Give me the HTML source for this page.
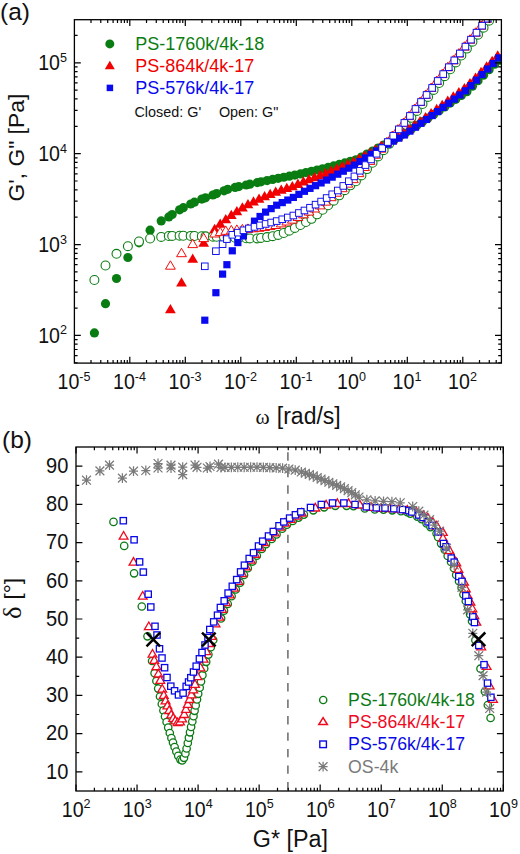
<!DOCTYPE html>
<html lang="en">
<head>
<meta charset="utf-8">
<title>Rheology master curves</title>
<style>
html,body{margin:0;padding:0;background:#fff;}
body{width:520px;height:854px;overflow:hidden;font-family:"Liberation Sans",sans-serif;}
svg{display:block;}
svg text{font-family:"Liberation Sans",sans-serif;}
</style>
</head>
<body>
<svg width="520" height="854" viewBox="0 0 520 854" font-family="Liberation Sans, sans-serif">
<clipPath id="ca"><rect x="74.4" y="19.7" width="427" height="343.4"/></clipPath>
<g clip-path="url(#ca)">
<circle cx="94.4" cy="332.9" r="4.6" fill="#0a7d12"/>
<circle cx="105.5" cy="303.7" r="4.6" fill="#0a7d12"/>
<circle cx="116.5" cy="278.5" r="4.6" fill="#0a7d12"/>
<circle cx="127.9" cy="257.5" r="4.6" fill="#0a7d12"/>
<circle cx="139" cy="242.8" r="4.6" fill="#0a7d12"/>
<circle cx="150.1" cy="230.2" r="4.6" fill="#0a7d12"/>
<circle cx="161.2" cy="220.9" r="4.6" fill="#0a7d12"/>
<circle cx="168.8" cy="216.9" r="4.6" fill="#0a7d12"/>
<circle cx="172.2" cy="214.5" r="4.6" fill="#0a7d12"/>
<circle cx="179.6" cy="209.8" r="4.6" fill="#0a7d12"/>
<circle cx="183.3" cy="207.7" r="4.6" fill="#0a7d12"/>
<circle cx="190.7" cy="204" r="4.6" fill="#0a7d12"/>
<circle cx="194.4" cy="202.2" r="4.6" fill="#0a7d12"/>
<circle cx="201.8" cy="199.1" r="4.6" fill="#0a7d12"/>
<circle cx="205.5" cy="197.8" r="4.6" fill="#0a7d12"/>
<circle cx="212.9" cy="194.99" r="4.6" fill="#0a7d12"/>
<circle cx="216.6" cy="193.59" r="4.6" fill="#0a7d12"/>
<circle cx="224" cy="190.78" r="4.6" fill="#0a7d12"/>
<circle cx="227.7" cy="189.37" r="4.6" fill="#0a7d12"/>
<circle cx="235.1" cy="187.4" r="4.6" fill="#0a7d12"/>
<circle cx="238.8" cy="186.59" r="4.6" fill="#0a7d12"/>
<circle cx="246.2" cy="184.99" r="4.6" fill="#0a7d12"/>
<circle cx="249.9" cy="184.19" r="4.6" fill="#0a7d12"/>
<circle cx="257.3" cy="182.59" r="4.6" fill="#0a7d12"/>
<circle cx="261" cy="181.8" r="4.6" fill="#0a7d12"/>
<circle cx="267.1" cy="180.58" r="4.6" fill="#0a7d12"/>
<circle cx="272.65" cy="179.47" r="4.6" fill="#0a7d12"/>
<circle cx="278.2" cy="178.36" r="4.6" fill="#0a7d12"/>
<circle cx="283.75" cy="177.25" r="4.6" fill="#0a7d12"/>
<circle cx="289.3" cy="176.14" r="4.6" fill="#0a7d12"/>
<circle cx="294.85" cy="175.03" r="4.6" fill="#0a7d12"/>
<circle cx="300.4" cy="173.91" r="4.6" fill="#0a7d12"/>
<circle cx="305.95" cy="172.61" r="4.6" fill="#0a7d12"/>
<circle cx="311.5" cy="171.32" r="4.6" fill="#0a7d12"/>
<circle cx="317.05" cy="170.02" r="4.6" fill="#0a7d12"/>
<circle cx="322.6" cy="168.73" r="4.6" fill="#0a7d12"/>
<circle cx="328.15" cy="167.43" r="4.6" fill="#0a7d12"/>
<circle cx="333.7" cy="165.97" r="4.6" fill="#0a7d12"/>
<circle cx="339.25" cy="164.43" r="4.6" fill="#0a7d12"/>
<circle cx="344.8" cy="162.89" r="4.6" fill="#0a7d12"/>
<circle cx="350.35" cy="161.35" r="4.6" fill="#0a7d12"/>
<circle cx="355.9" cy="159.81" r="4.6" fill="#0a7d12"/>
<circle cx="361.45" cy="157.08" r="4.6" fill="#0a7d12"/>
<circle cx="367" cy="154.06" r="4.6" fill="#0a7d12"/>
<circle cx="372.55" cy="151.04" r="4.6" fill="#0a7d12"/>
<circle cx="378.1" cy="148.03" r="4.6" fill="#0a7d12"/>
<circle cx="383.65" cy="145.01" r="4.6" fill="#0a7d12"/>
<circle cx="389.2" cy="141.96" r="4.6" fill="#0a7d12"/>
<circle cx="394.75" cy="138.91" r="4.6" fill="#0a7d12"/>
<circle cx="400.3" cy="135.86" r="4.6" fill="#0a7d12"/>
<circle cx="405.85" cy="132.57" r="4.6" fill="#0a7d12"/>
<circle cx="411.4" cy="128.94" r="4.6" fill="#0a7d12"/>
<circle cx="416.95" cy="125.32" r="4.6" fill="#0a7d12"/>
<circle cx="422.5" cy="121.69" r="4.6" fill="#0a7d12"/>
<circle cx="428.05" cy="118.07" r="4.6" fill="#0a7d12"/>
<circle cx="433.6" cy="114.44" r="4.6" fill="#0a7d12"/>
<circle cx="439.15" cy="110.69" r="4.6" fill="#0a7d12"/>
<circle cx="444.7" cy="106.89" r="4.6" fill="#0a7d12"/>
<circle cx="450.25" cy="103.08" r="4.6" fill="#0a7d12"/>
<circle cx="455.8" cy="99.28" r="4.6" fill="#0a7d12"/>
<circle cx="461.35" cy="95.47" r="4.6" fill="#0a7d12"/>
<circle cx="466.9" cy="91.67" r="4.6" fill="#0a7d12"/>
<circle cx="472.45" cy="86.2" r="4.6" fill="#0a7d12"/>
<circle cx="478" cy="80.7" r="4.6" fill="#0a7d12"/>
<circle cx="483.55" cy="75.21" r="4.6" fill="#0a7d12"/>
<circle cx="489.1" cy="69.71" r="4.6" fill="#0a7d12"/>
<circle cx="494.65" cy="64.21" r="4.6" fill="#0a7d12"/>
<circle cx="500.2" cy="60.2" r="4.6" fill="#0a7d12"/>
<circle cx="94.4" cy="280" r="4.45" fill="#fff" stroke="#0a7d12" stroke-width="1.1"/>
<circle cx="105.5" cy="265.5" r="4.45" fill="#fff" stroke="#0a7d12" stroke-width="1.1"/>
<circle cx="116.5" cy="253.8" r="4.45" fill="#fff" stroke="#0a7d12" stroke-width="1.1"/>
<circle cx="127.9" cy="246.2" r="4.45" fill="#fff" stroke="#0a7d12" stroke-width="1.1"/>
<circle cx="139" cy="241.5" r="4.45" fill="#fff" stroke="#0a7d12" stroke-width="1.1"/>
<circle cx="150.1" cy="238.5" r="4.45" fill="#fff" stroke="#0a7d12" stroke-width="1.1"/>
<circle cx="161.2" cy="236.9" r="4.45" fill="#fff" stroke="#0a7d12" stroke-width="1.1"/>
<circle cx="168.8" cy="236" r="4.45" fill="#fff" stroke="#0a7d12" stroke-width="1.1"/>
<circle cx="172.2" cy="235.91" r="4.45" fill="#fff" stroke="#0a7d12" stroke-width="1.1"/>
<circle cx="179.6" cy="235.71" r="4.45" fill="#fff" stroke="#0a7d12" stroke-width="1.1"/>
<circle cx="183.3" cy="235.77" r="4.45" fill="#fff" stroke="#0a7d12" stroke-width="1.1"/>
<circle cx="190.7" cy="235.91" r="4.45" fill="#fff" stroke="#0a7d12" stroke-width="1.1"/>
<circle cx="194.4" cy="235.99" r="4.45" fill="#fff" stroke="#0a7d12" stroke-width="1.1"/>
<circle cx="201.8" cy="236.23" r="4.45" fill="#fff" stroke="#0a7d12" stroke-width="1.1"/>
<circle cx="205.5" cy="236.35" r="4.45" fill="#fff" stroke="#0a7d12" stroke-width="1.1"/>
<circle cx="212.9" cy="236.65" r="4.45" fill="#fff" stroke="#0a7d12" stroke-width="1.1"/>
<circle cx="216.6" cy="236.83" r="4.45" fill="#fff" stroke="#0a7d12" stroke-width="1.1"/>
<circle cx="224" cy="237.2" r="4.45" fill="#fff" stroke="#0a7d12" stroke-width="1.1"/>
<circle cx="227.7" cy="237.38" r="4.45" fill="#fff" stroke="#0a7d12" stroke-width="1.1"/>
<circle cx="235.1" cy="237.75" r="4.45" fill="#fff" stroke="#0a7d12" stroke-width="1.1"/>
<circle cx="238.8" cy="237.92" r="4.45" fill="#fff" stroke="#0a7d12" stroke-width="1.1"/>
<circle cx="246.2" cy="238.28" r="4.45" fill="#fff" stroke="#0a7d12" stroke-width="1.1"/>
<circle cx="249.9" cy="238.46" r="4.45" fill="#fff" stroke="#0a7d12" stroke-width="1.1"/>
<circle cx="257.3" cy="238.46" r="4.45" fill="#fff" stroke="#0a7d12" stroke-width="1.1"/>
<circle cx="261" cy="237.97" r="4.45" fill="#fff" stroke="#0a7d12" stroke-width="1.1"/>
<circle cx="267.1" cy="237.11" r="4.45" fill="#fff" stroke="#0a7d12" stroke-width="1.1"/>
<circle cx="272.65" cy="236.22" r="4.45" fill="#fff" stroke="#0a7d12" stroke-width="1.1"/>
<circle cx="278.2" cy="234.92" r="4.45" fill="#fff" stroke="#0a7d12" stroke-width="1.1"/>
<circle cx="283.75" cy="232.99" r="4.45" fill="#fff" stroke="#0a7d12" stroke-width="1.1"/>
<circle cx="289.3" cy="230.63" r="4.45" fill="#fff" stroke="#0a7d12" stroke-width="1.1"/>
<circle cx="294.85" cy="227.96" r="4.45" fill="#fff" stroke="#0a7d12" stroke-width="1.1"/>
<circle cx="300.4" cy="225.07" r="4.45" fill="#fff" stroke="#0a7d12" stroke-width="1.1"/>
<circle cx="305.95" cy="222.07" r="4.45" fill="#fff" stroke="#0a7d12" stroke-width="1.1"/>
<circle cx="311.5" cy="218.84" r="4.45" fill="#fff" stroke="#0a7d12" stroke-width="1.1"/>
<circle cx="317.05" cy="214.37" r="4.45" fill="#fff" stroke="#0a7d12" stroke-width="1.1"/>
<circle cx="322.6" cy="209.81" r="4.45" fill="#fff" stroke="#0a7d12" stroke-width="1.1"/>
<circle cx="328.15" cy="205.24" r="4.45" fill="#fff" stroke="#0a7d12" stroke-width="1.1"/>
<circle cx="333.7" cy="200.68" r="4.45" fill="#fff" stroke="#0a7d12" stroke-width="1.1"/>
<circle cx="339.25" cy="195.36" r="4.45" fill="#fff" stroke="#0a7d12" stroke-width="1.1"/>
<circle cx="344.8" cy="190.2" r="4.45" fill="#fff" stroke="#0a7d12" stroke-width="1.1"/>
<circle cx="350.35" cy="185.36" r="4.45" fill="#fff" stroke="#0a7d12" stroke-width="1.1"/>
<circle cx="355.9" cy="181.3" r="4.45" fill="#fff" stroke="#0a7d12" stroke-width="1.1"/>
<circle cx="361.45" cy="175.43" r="4.45" fill="#fff" stroke="#0a7d12" stroke-width="1.1"/>
<circle cx="367" cy="169.11" r="4.45" fill="#fff" stroke="#0a7d12" stroke-width="1.1"/>
<circle cx="372.55" cy="162.79" r="4.45" fill="#fff" stroke="#0a7d12" stroke-width="1.1"/>
<circle cx="378.1" cy="156.47" r="4.45" fill="#fff" stroke="#0a7d12" stroke-width="1.1"/>
<circle cx="383.65" cy="150.15" r="4.45" fill="#fff" stroke="#0a7d12" stroke-width="1.1"/>
<circle cx="389.2" cy="143.87" r="4.45" fill="#fff" stroke="#0a7d12" stroke-width="1.1"/>
<circle cx="394.75" cy="137.6" r="4.45" fill="#fff" stroke="#0a7d12" stroke-width="1.1"/>
<circle cx="400.3" cy="131.32" r="4.45" fill="#fff" stroke="#0a7d12" stroke-width="1.1"/>
<circle cx="405.85" cy="124.77" r="4.45" fill="#fff" stroke="#0a7d12" stroke-width="1.1"/>
<circle cx="411.4" cy="117.86" r="4.45" fill="#fff" stroke="#0a7d12" stroke-width="1.1"/>
<circle cx="416.95" cy="110.95" r="4.45" fill="#fff" stroke="#0a7d12" stroke-width="1.1"/>
<circle cx="422.5" cy="103.98" r="4.45" fill="#fff" stroke="#0a7d12" stroke-width="1.1"/>
<circle cx="428.05" cy="96.95" r="4.45" fill="#fff" stroke="#0a7d12" stroke-width="1.1"/>
<circle cx="433.6" cy="89.93" r="4.45" fill="#fff" stroke="#0a7d12" stroke-width="1.1"/>
<circle cx="439.15" cy="83.01" r="4.45" fill="#fff" stroke="#0a7d12" stroke-width="1.1"/>
<circle cx="444.7" cy="76.13" r="4.45" fill="#fff" stroke="#0a7d12" stroke-width="1.1"/>
<circle cx="450.25" cy="69.25" r="4.45" fill="#fff" stroke="#0a7d12" stroke-width="1.1"/>
<circle cx="455.8" cy="62.38" r="4.45" fill="#fff" stroke="#0a7d12" stroke-width="1.1"/>
<circle cx="461.35" cy="55.5" r="4.45" fill="#fff" stroke="#0a7d12" stroke-width="1.1"/>
<circle cx="466.9" cy="48.62" r="4.45" fill="#fff" stroke="#0a7d12" stroke-width="1.1"/>
<circle cx="472.45" cy="41.64" r="4.45" fill="#fff" stroke="#0a7d12" stroke-width="1.1"/>
<circle cx="478" cy="34.66" r="4.45" fill="#fff" stroke="#0a7d12" stroke-width="1.1"/>
<circle cx="483.55" cy="27.68" r="4.45" fill="#fff" stroke="#0a7d12" stroke-width="1.1"/>
<circle cx="489.1" cy="20.7" r="4.45" fill="#fff" stroke="#0a7d12" stroke-width="1.1"/>
<circle cx="494.65" cy="13.72" r="4.45" fill="#fff" stroke="#0a7d12" stroke-width="1.1"/>
<circle cx="500.2" cy="6.74" r="4.45" fill="#fff" stroke="#0a7d12" stroke-width="1.1"/>
<polygon points="170.4,304.05 165,313.35 175.8,313.35" fill="#f00000"/>
<polygon points="181.5,277.15 176.1,286.45 186.9,286.45" fill="#f00000"/>
<polygon points="192.7,253.55 187.3,262.85 198.1,262.85" fill="#f00000"/>
<polygon points="203.7,237.45 198.3,246.75 209.1,246.75" fill="#f00000"/>
<polygon points="214.65,223.76 209.25,233.06 220.05,233.06" fill="#f00000"/>
<polygon points="220.2,218.57 214.8,227.87 225.6,227.87" fill="#f00000"/>
<polygon points="225.75,213.88 220.35,223.18 231.15,223.18" fill="#f00000"/>
<polygon points="231.3,209.7 225.9,219 236.7,219" fill="#f00000"/>
<polygon points="236.85,205.96 231.45,215.26 242.25,215.26" fill="#f00000"/>
<polygon points="242.4,202.31 237,211.61 247.8,211.61" fill="#f00000"/>
<polygon points="247.95,198.99 242.55,208.29 253.35,208.29" fill="#f00000"/>
<polygon points="253.5,196.27 248.1,205.57 258.9,205.57" fill="#f00000"/>
<polygon points="259.05,193.55 253.65,202.85 264.45,202.85" fill="#f00000"/>
<polygon points="264.6,191.07 259.2,200.37 270,200.37" fill="#f00000"/>
<polygon points="270.15,188.78 264.75,198.08 275.55,198.08" fill="#f00000"/>
<polygon points="275.7,186.49 270.3,195.79 281.1,195.79" fill="#f00000"/>
<polygon points="281.25,184.56 275.85,193.86 286.65,193.86" fill="#f00000"/>
<polygon points="286.8,182.75 281.4,192.05 292.2,192.05" fill="#f00000"/>
<polygon points="292.35,180.93 286.95,190.23 297.75,190.23" fill="#f00000"/>
<polygon points="297.9,178.59 292.5,187.89 303.3,187.89" fill="#f00000"/>
<polygon points="303.45,176.24 298.05,185.54 308.85,185.54" fill="#f00000"/>
<polygon points="309,173.97 303.6,183.27 314.4,183.27" fill="#f00000"/>
<polygon points="314.55,171.9 309.15,181.2 319.95,181.2" fill="#f00000"/>
<polygon points="320.1,169.83 314.7,179.13 325.5,179.13" fill="#f00000"/>
<polygon points="325.65,167.71 320.25,177.01 331.05,177.01" fill="#f00000"/>
<polygon points="331.2,165.52 325.8,174.82 336.6,174.82" fill="#f00000"/>
<polygon points="336.75,163.34 331.35,172.64 342.15,172.64" fill="#f00000"/>
<polygon points="342.3,161.11 336.9,170.41 347.7,170.41" fill="#f00000"/>
<polygon points="347.85,158.86 342.45,168.16 353.25,168.16" fill="#f00000"/>
<polygon points="353.4,156.61 348,165.91 358.8,165.91" fill="#f00000"/>
<polygon points="358.95,153.59 353.55,162.89 364.35,162.89" fill="#f00000"/>
<polygon points="364.5,150.51 359.1,159.81 369.9,159.81" fill="#f00000"/>
<polygon points="370.05,147.42 364.65,156.72 375.45,156.72" fill="#f00000"/>
<polygon points="375.6,144.14 370.2,153.44 381,153.44" fill="#f00000"/>
<polygon points="381.15,140.87 375.75,150.17 386.55,150.17" fill="#f00000"/>
<polygon points="386.7,137.6 381.3,146.9 392.1,146.9" fill="#f00000"/>
<polygon points="392.25,134.35 386.85,143.65 397.65,143.65" fill="#f00000"/>
<polygon points="397.8,131.09 392.4,140.39 403.2,140.39" fill="#f00000"/>
<polygon points="403.35,127.84 397.95,137.14 408.75,137.14" fill="#f00000"/>
<polygon points="408.9,123.87 403.5,133.17 414.3,133.17" fill="#f00000"/>
<polygon points="414.45,119.87 409.05,129.17 419.85,129.17" fill="#f00000"/>
<polygon points="420,115.88 414.6,125.18 425.4,125.18" fill="#f00000"/>
<polygon points="425.55,111.89 420.15,121.19 430.95,121.19" fill="#f00000"/>
<polygon points="431.1,107.9 425.7,117.2 436.5,117.2" fill="#f00000"/>
<polygon points="436.65,103.86 431.25,113.16 442.05,113.16" fill="#f00000"/>
<polygon points="442.2,99.67 436.8,108.97 447.6,108.97" fill="#f00000"/>
<polygon points="447.75,95.48 442.35,104.78 453.15,104.78" fill="#f00000"/>
<polygon points="453.3,91.29 447.9,100.59 458.7,100.59" fill="#f00000"/>
<polygon points="458.85,87.1 453.45,96.4 464.25,96.4" fill="#f00000"/>
<polygon points="464.4,82.91 459,92.21 469.8,92.21" fill="#f00000"/>
<polygon points="469.95,77.99 464.55,87.29 475.35,87.29" fill="#f00000"/>
<polygon points="475.5,72.42 470.1,81.72 480.9,81.72" fill="#f00000"/>
<polygon points="481.05,66.86 475.65,76.16 486.45,76.16" fill="#f00000"/>
<polygon points="486.6,61.29 481.2,70.59 492,70.59" fill="#f00000"/>
<polygon points="492.15,55.72 486.75,65.02 497.55,65.02" fill="#f00000"/>
<polygon points="497.7,50.15 492.3,59.45 503.1,59.45" fill="#f00000"/>
<polygon points="170.4,260.8 165.5,269.2 175.3,269.2" fill="#fff" stroke="#f00000" stroke-width="0.95" stroke-linejoin="miter"/>
<polygon points="181.5,248.3 176.6,256.7 186.4,256.7" fill="#fff" stroke="#f00000" stroke-width="0.95" stroke-linejoin="miter"/>
<polygon points="192.7,239.2 187.8,247.6 197.6,247.6" fill="#fff" stroke="#f00000" stroke-width="0.95" stroke-linejoin="miter"/>
<polygon points="203.7,233.2 198.8,241.6 208.6,241.6" fill="#fff" stroke="#f00000" stroke-width="0.95" stroke-linejoin="miter"/>
<polygon points="214.65,228.59 209.75,236.99 219.55,236.99" fill="#fff" stroke="#f00000" stroke-width="0.95" stroke-linejoin="miter"/>
<polygon points="220.2,227.2 215.3,235.6 225.1,235.6" fill="#fff" stroke="#f00000" stroke-width="0.95" stroke-linejoin="miter"/>
<polygon points="225.75,225.93 220.85,234.33 230.65,234.33" fill="#fff" stroke="#f00000" stroke-width="0.95" stroke-linejoin="miter"/>
<polygon points="231.3,225.41 226.4,233.81 236.2,233.81" fill="#fff" stroke="#f00000" stroke-width="0.95" stroke-linejoin="miter"/>
<polygon points="236.85,224.89 231.95,233.29 241.75,233.29" fill="#fff" stroke="#f00000" stroke-width="0.95" stroke-linejoin="miter"/>
<polygon points="242.4,224.39 237.5,232.79 247.3,232.79" fill="#fff" stroke="#f00000" stroke-width="0.95" stroke-linejoin="miter"/>
<polygon points="247.95,223.9 243.05,232.3 252.85,232.3" fill="#fff" stroke="#f00000" stroke-width="0.95" stroke-linejoin="miter"/>
<polygon points="253.5,223.41 248.6,231.81 258.4,231.81" fill="#fff" stroke="#f00000" stroke-width="0.95" stroke-linejoin="miter"/>
<polygon points="259.05,222.92 254.15,231.32 263.95,231.32" fill="#fff" stroke="#f00000" stroke-width="0.95" stroke-linejoin="miter"/>
<polygon points="264.6,222.14 259.7,230.54 269.5,230.54" fill="#fff" stroke="#f00000" stroke-width="0.95" stroke-linejoin="miter"/>
<polygon points="270.15,221.14 265.25,229.54 275.05,229.54" fill="#fff" stroke="#f00000" stroke-width="0.95" stroke-linejoin="miter"/>
<polygon points="275.7,220.13 270.8,228.53 280.6,228.53" fill="#fff" stroke="#f00000" stroke-width="0.95" stroke-linejoin="miter"/>
<polygon points="281.25,218.48 276.35,226.88 286.15,226.88" fill="#fff" stroke="#f00000" stroke-width="0.95" stroke-linejoin="miter"/>
<polygon points="286.8,216.63 281.9,225.03 291.7,225.03" fill="#fff" stroke="#f00000" stroke-width="0.95" stroke-linejoin="miter"/>
<polygon points="292.35,214.73 287.45,223.13 297.25,223.13" fill="#fff" stroke="#f00000" stroke-width="0.95" stroke-linejoin="miter"/>
<polygon points="297.9,212.08 293,220.48 302.8,220.48" fill="#fff" stroke="#f00000" stroke-width="0.95" stroke-linejoin="miter"/>
<polygon points="303.45,209.43 298.55,217.83 308.35,217.83" fill="#fff" stroke="#f00000" stroke-width="0.95" stroke-linejoin="miter"/>
<polygon points="309,206.68 304.1,215.08 313.9,215.08" fill="#fff" stroke="#f00000" stroke-width="0.95" stroke-linejoin="miter"/>
<polygon points="314.55,203.59 309.65,211.99 319.45,211.99" fill="#fff" stroke="#f00000" stroke-width="0.95" stroke-linejoin="miter"/>
<polygon points="320.1,200.51 315.2,208.91 325,208.91" fill="#fff" stroke="#f00000" stroke-width="0.95" stroke-linejoin="miter"/>
<polygon points="325.65,196.76 320.75,205.16 330.55,205.16" fill="#fff" stroke="#f00000" stroke-width="0.95" stroke-linejoin="miter"/>
<polygon points="331.2,192.29 326.3,200.69 336.1,200.69" fill="#fff" stroke="#f00000" stroke-width="0.95" stroke-linejoin="miter"/>
<polygon points="336.75,187.81 331.85,196.21 341.65,196.21" fill="#fff" stroke="#f00000" stroke-width="0.95" stroke-linejoin="miter"/>
<polygon points="342.3,183.3 337.4,191.7 347.2,191.7" fill="#fff" stroke="#f00000" stroke-width="0.95" stroke-linejoin="miter"/>
<polygon points="347.85,178.76 342.95,187.16 352.75,187.16" fill="#fff" stroke="#f00000" stroke-width="0.95" stroke-linejoin="miter"/>
<polygon points="353.4,174.23 348.5,182.63 358.3,182.63" fill="#fff" stroke="#f00000" stroke-width="0.95" stroke-linejoin="miter"/>
<polygon points="358.95,168.23 354.05,176.63 363.85,176.63" fill="#fff" stroke="#f00000" stroke-width="0.95" stroke-linejoin="miter"/>
<polygon points="364.5,162.12 359.6,170.52 369.4,170.52" fill="#fff" stroke="#f00000" stroke-width="0.95" stroke-linejoin="miter"/>
<polygon points="370.05,156 365.15,164.4 374.95,164.4" fill="#fff" stroke="#f00000" stroke-width="0.95" stroke-linejoin="miter"/>
<polygon points="375.6,149.89 370.7,158.29 380.5,158.29" fill="#fff" stroke="#f00000" stroke-width="0.95" stroke-linejoin="miter"/>
<polygon points="381.15,143.78 376.25,152.18 386.05,152.18" fill="#fff" stroke="#f00000" stroke-width="0.95" stroke-linejoin="miter"/>
<polygon points="386.7,137.54 381.8,145.94 391.6,145.94" fill="#fff" stroke="#f00000" stroke-width="0.95" stroke-linejoin="miter"/>
<polygon points="392.25,131.12 387.35,139.52 397.15,139.52" fill="#fff" stroke="#f00000" stroke-width="0.95" stroke-linejoin="miter"/>
<polygon points="397.8,124.7 392.9,133.1 402.7,133.1" fill="#fff" stroke="#f00000" stroke-width="0.95" stroke-linejoin="miter"/>
<polygon points="403.35,118.27 398.45,126.67 408.25,126.67" fill="#fff" stroke="#f00000" stroke-width="0.95" stroke-linejoin="miter"/>
<polygon points="408.9,111.24 404,119.64 413.8,119.64" fill="#fff" stroke="#f00000" stroke-width="0.95" stroke-linejoin="miter"/>
<polygon points="414.45,104.19 409.55,112.59 419.35,112.59" fill="#fff" stroke="#f00000" stroke-width="0.95" stroke-linejoin="miter"/>
<polygon points="420,97.14 415.1,105.54 424.9,105.54" fill="#fff" stroke="#f00000" stroke-width="0.95" stroke-linejoin="miter"/>
<polygon points="425.55,90.12 420.65,98.52 430.45,98.52" fill="#fff" stroke="#f00000" stroke-width="0.95" stroke-linejoin="miter"/>
<polygon points="431.1,83.09 426.2,91.49 436,91.49" fill="#fff" stroke="#f00000" stroke-width="0.95" stroke-linejoin="miter"/>
<polygon points="436.65,76.1 431.75,84.5 441.55,84.5" fill="#fff" stroke="#f00000" stroke-width="0.95" stroke-linejoin="miter"/>
<polygon points="442.2,69.23 437.3,77.63 447.1,77.63" fill="#fff" stroke="#f00000" stroke-width="0.95" stroke-linejoin="miter"/>
<polygon points="447.75,62.35 442.85,70.75 452.65,70.75" fill="#fff" stroke="#f00000" stroke-width="0.95" stroke-linejoin="miter"/>
<polygon points="453.3,55.47 448.4,63.87 458.2,63.87" fill="#fff" stroke="#f00000" stroke-width="0.95" stroke-linejoin="miter"/>
<polygon points="458.85,48.6 453.95,57 463.75,57" fill="#fff" stroke="#f00000" stroke-width="0.95" stroke-linejoin="miter"/>
<polygon points="464.4,41.72 459.5,50.12 469.3,50.12" fill="#fff" stroke="#f00000" stroke-width="0.95" stroke-linejoin="miter"/>
<polygon points="469.95,34.79 465.05,43.19 474.85,43.19" fill="#fff" stroke="#f00000" stroke-width="0.95" stroke-linejoin="miter"/>
<polygon points="475.5,27.81 470.6,36.21 480.4,36.21" fill="#fff" stroke="#f00000" stroke-width="0.95" stroke-linejoin="miter"/>
<polygon points="481.05,20.83 476.15,29.23 485.95,29.23" fill="#fff" stroke="#f00000" stroke-width="0.95" stroke-linejoin="miter"/>
<polygon points="486.6,13.85 481.7,22.25 491.5,22.25" fill="#fff" stroke="#f00000" stroke-width="0.95" stroke-linejoin="miter"/>
<polygon points="492.15,6.86 487.25,15.26 497.05,15.26" fill="#fff" stroke="#f00000" stroke-width="0.95" stroke-linejoin="miter"/>
<polygon points="497.7,-0.12 492.8,8.28 502.6,8.28" fill="#fff" stroke="#f00000" stroke-width="0.95" stroke-linejoin="miter"/>
<rect x="201.2" y="316.6" width="7.2" height="7.2" fill="#0a0af0"/>
<rect x="212.3" y="289.1" width="7.2" height="7.2" fill="#0a0af0"/>
<rect x="219" y="270.5" width="7.2" height="7.2" fill="#0a0af0"/>
<rect x="223.3" y="261.1" width="7.2" height="7.2" fill="#0a0af0"/>
<rect x="228.7" y="247.2" width="7.2" height="7.2" fill="#0a0af0"/>
<rect x="234.25" y="238.98" width="7.2" height="7.2" fill="#0a0af0"/>
<rect x="239.8" y="232.34" width="7.2" height="7.2" fill="#0a0af0"/>
<rect x="245.35" y="224.94" width="7.2" height="7.2" fill="#0a0af0"/>
<rect x="250.9" y="217.57" width="7.2" height="7.2" fill="#0a0af0"/>
<rect x="256.45" y="212.86" width="7.2" height="7.2" fill="#0a0af0"/>
<rect x="262" y="208.51" width="7.2" height="7.2" fill="#0a0af0"/>
<rect x="267.55" y="205.02" width="7.2" height="7.2" fill="#0a0af0"/>
<rect x="273.1" y="201.59" width="7.2" height="7.2" fill="#0a0af0"/>
<rect x="278.65" y="199" width="7.2" height="7.2" fill="#0a0af0"/>
<rect x="284.2" y="196.46" width="7.2" height="7.2" fill="#0a0af0"/>
<rect x="289.75" y="193.82" width="7.2" height="7.2" fill="#0a0af0"/>
<rect x="295.3" y="190.76" width="7.2" height="7.2" fill="#0a0af0"/>
<rect x="300.85" y="187.69" width="7.2" height="7.2" fill="#0a0af0"/>
<rect x="306.4" y="184.77" width="7.2" height="7.2" fill="#0a0af0"/>
<rect x="311.95" y="182.05" width="7.2" height="7.2" fill="#0a0af0"/>
<rect x="317.5" y="179.33" width="7.2" height="7.2" fill="#0a0af0"/>
<rect x="323.05" y="176.47" width="7.2" height="7.2" fill="#0a0af0"/>
<rect x="328.6" y="173.53" width="7.2" height="7.2" fill="#0a0af0"/>
<rect x="334.15" y="170.6" width="7.2" height="7.2" fill="#0a0af0"/>
<rect x="339.7" y="167.6" width="7.2" height="7.2" fill="#0a0af0"/>
<rect x="345.25" y="164.59" width="7.2" height="7.2" fill="#0a0af0"/>
<rect x="350.8" y="161.51" width="7.2" height="7.2" fill="#0a0af0"/>
<rect x="356.35" y="157.91" width="7.2" height="7.2" fill="#0a0af0"/>
<rect x="361.9" y="154.32" width="7.2" height="7.2" fill="#0a0af0"/>
<rect x="367.45" y="150.74" width="7.2" height="7.2" fill="#0a0af0"/>
<rect x="373" y="147.27" width="7.2" height="7.2" fill="#0a0af0"/>
<rect x="378.55" y="143.81" width="7.2" height="7.2" fill="#0a0af0"/>
<rect x="384.1" y="140.6" width="7.2" height="7.2" fill="#0a0af0"/>
<rect x="389.65" y="137.58" width="7.2" height="7.2" fill="#0a0af0"/>
<rect x="395.2" y="134.56" width="7.2" height="7.2" fill="#0a0af0"/>
<rect x="400.75" y="131.4" width="7.2" height="7.2" fill="#0a0af0"/>
<rect x="406.3" y="127.52" width="7.2" height="7.2" fill="#0a0af0"/>
<rect x="411.85" y="123.63" width="7.2" height="7.2" fill="#0a0af0"/>
<rect x="417.4" y="119.74" width="7.2" height="7.2" fill="#0a0af0"/>
<rect x="422.95" y="115.86" width="7.2" height="7.2" fill="#0a0af0"/>
<rect x="428.5" y="111.97" width="7.2" height="7.2" fill="#0a0af0"/>
<rect x="434.05" y="107.97" width="7.2" height="7.2" fill="#0a0af0"/>
<rect x="439.6" y="103.81" width="7.2" height="7.2" fill="#0a0af0"/>
<rect x="445.15" y="99.66" width="7.2" height="7.2" fill="#0a0af0"/>
<rect x="450.7" y="95.51" width="7.2" height="7.2" fill="#0a0af0"/>
<rect x="456.25" y="91.35" width="7.2" height="7.2" fill="#0a0af0"/>
<rect x="461.8" y="87.2" width="7.2" height="7.2" fill="#0a0af0"/>
<rect x="467.35" y="82.05" width="7.2" height="7.2" fill="#0a0af0"/>
<rect x="472.9" y="76.5" width="7.2" height="7.2" fill="#0a0af0"/>
<rect x="478.45" y="70.95" width="7.2" height="7.2" fill="#0a0af0"/>
<rect x="484" y="65.4" width="7.2" height="7.2" fill="#0a0af0"/>
<rect x="489.55" y="59.85" width="7.2" height="7.2" fill="#0a0af0"/>
<rect x="495.1" y="54.3" width="7.2" height="7.2" fill="#0a0af0"/>
<rect x="201.5" y="263" width="6.6" height="6.6" fill="#fff" stroke="#0a0af0" stroke-width="0.95"/>
<rect x="212.6" y="247.9" width="6.6" height="6.6" fill="#fff" stroke="#0a0af0" stroke-width="0.95"/>
<rect x="219.3" y="240.9" width="6.6" height="6.6" fill="#fff" stroke="#0a0af0" stroke-width="0.95"/>
<rect x="223.6" y="235.8" width="6.6" height="6.6" fill="#fff" stroke="#0a0af0" stroke-width="0.95"/>
<rect x="229" y="231.5" width="6.6" height="6.6" fill="#fff" stroke="#0a0af0" stroke-width="0.95"/>
<rect x="234.55" y="229.34" width="6.6" height="6.6" fill="#fff" stroke="#0a0af0" stroke-width="0.95"/>
<rect x="240.1" y="227" width="6.6" height="6.6" fill="#fff" stroke="#0a0af0" stroke-width="0.95"/>
<rect x="245.65" y="225.1" width="6.6" height="6.6" fill="#fff" stroke="#0a0af0" stroke-width="0.95"/>
<rect x="251.2" y="223.6" width="6.6" height="6.6" fill="#fff" stroke="#0a0af0" stroke-width="0.95"/>
<rect x="256.75" y="222.09" width="6.6" height="6.6" fill="#fff" stroke="#0a0af0" stroke-width="0.95"/>
<rect x="262.3" y="220.64" width="6.6" height="6.6" fill="#fff" stroke="#0a0af0" stroke-width="0.95"/>
<rect x="267.85" y="219.21" width="6.6" height="6.6" fill="#fff" stroke="#0a0af0" stroke-width="0.95"/>
<rect x="273.4" y="217.78" width="6.6" height="6.6" fill="#fff" stroke="#0a0af0" stroke-width="0.95"/>
<rect x="278.95" y="215.98" width="6.6" height="6.6" fill="#fff" stroke="#0a0af0" stroke-width="0.95"/>
<rect x="284.5" y="214.17" width="6.6" height="6.6" fill="#fff" stroke="#0a0af0" stroke-width="0.95"/>
<rect x="290.05" y="212.22" width="6.6" height="6.6" fill="#fff" stroke="#0a0af0" stroke-width="0.95"/>
<rect x="295.6" y="209.7" width="6.6" height="6.6" fill="#fff" stroke="#0a0af0" stroke-width="0.95"/>
<rect x="301.15" y="207.18" width="6.6" height="6.6" fill="#fff" stroke="#0a0af0" stroke-width="0.95"/>
<rect x="306.7" y="204.42" width="6.6" height="6.6" fill="#fff" stroke="#0a0af0" stroke-width="0.95"/>
<rect x="312.25" y="201.34" width="6.6" height="6.6" fill="#fff" stroke="#0a0af0" stroke-width="0.95"/>
<rect x="317.8" y="198.26" width="6.6" height="6.6" fill="#fff" stroke="#0a0af0" stroke-width="0.95"/>
<rect x="323.35" y="194.73" width="6.6" height="6.6" fill="#fff" stroke="#0a0af0" stroke-width="0.95"/>
<rect x="328.9" y="190.97" width="6.6" height="6.6" fill="#fff" stroke="#0a0af0" stroke-width="0.95"/>
<rect x="334.45" y="187.21" width="6.6" height="6.6" fill="#fff" stroke="#0a0af0" stroke-width="0.95"/>
<rect x="340" y="182.62" width="6.6" height="6.6" fill="#fff" stroke="#0a0af0" stroke-width="0.95"/>
<rect x="345.55" y="177.91" width="6.6" height="6.6" fill="#fff" stroke="#0a0af0" stroke-width="0.95"/>
<rect x="351.1" y="173.09" width="6.6" height="6.6" fill="#fff" stroke="#0a0af0" stroke-width="0.95"/>
<rect x="356.65" y="167.44" width="6.6" height="6.6" fill="#fff" stroke="#0a0af0" stroke-width="0.95"/>
<rect x="362.2" y="161.78" width="6.6" height="6.6" fill="#fff" stroke="#0a0af0" stroke-width="0.95"/>
<rect x="367.75" y="156.13" width="6.6" height="6.6" fill="#fff" stroke="#0a0af0" stroke-width="0.95"/>
<rect x="373.3" y="150.46" width="6.6" height="6.6" fill="#fff" stroke="#0a0af0" stroke-width="0.95"/>
<rect x="378.85" y="144.8" width="6.6" height="6.6" fill="#fff" stroke="#0a0af0" stroke-width="0.95"/>
<rect x="384.4" y="138.73" width="6.6" height="6.6" fill="#fff" stroke="#0a0af0" stroke-width="0.95"/>
<rect x="389.95" y="132.4" width="6.6" height="6.6" fill="#fff" stroke="#0a0af0" stroke-width="0.95"/>
<rect x="395.5" y="126.06" width="6.6" height="6.6" fill="#fff" stroke="#0a0af0" stroke-width="0.95"/>
<rect x="401.05" y="119.63" width="6.6" height="6.6" fill="#fff" stroke="#0a0af0" stroke-width="0.95"/>
<rect x="406.6" y="112.65" width="6.6" height="6.6" fill="#fff" stroke="#0a0af0" stroke-width="0.95"/>
<rect x="412.15" y="105.67" width="6.6" height="6.6" fill="#fff" stroke="#0a0af0" stroke-width="0.95"/>
<rect x="417.7" y="98.67" width="6.6" height="6.6" fill="#fff" stroke="#0a0af0" stroke-width="0.95"/>
<rect x="423.25" y="91.65" width="6.6" height="6.6" fill="#fff" stroke="#0a0af0" stroke-width="0.95"/>
<rect x="428.8" y="84.62" width="6.6" height="6.6" fill="#fff" stroke="#0a0af0" stroke-width="0.95"/>
<rect x="434.35" y="77.66" width="6.6" height="6.6" fill="#fff" stroke="#0a0af0" stroke-width="0.95"/>
<rect x="439.9" y="70.79" width="6.6" height="6.6" fill="#fff" stroke="#0a0af0" stroke-width="0.95"/>
<rect x="445.45" y="63.91" width="6.6" height="6.6" fill="#fff" stroke="#0a0af0" stroke-width="0.95"/>
<rect x="451" y="57.04" width="6.6" height="6.6" fill="#fff" stroke="#0a0af0" stroke-width="0.95"/>
<rect x="456.55" y="50.16" width="6.6" height="6.6" fill="#fff" stroke="#0a0af0" stroke-width="0.95"/>
<rect x="462.1" y="43.28" width="6.6" height="6.6" fill="#fff" stroke="#0a0af0" stroke-width="0.95"/>
<rect x="467.65" y="36.33" width="6.6" height="6.6" fill="#fff" stroke="#0a0af0" stroke-width="0.95"/>
<rect x="473.2" y="29.35" width="6.6" height="6.6" fill="#fff" stroke="#0a0af0" stroke-width="0.95"/>
<rect x="478.75" y="22.37" width="6.6" height="6.6" fill="#fff" stroke="#0a0af0" stroke-width="0.95"/>
<rect x="484.3" y="15.39" width="6.6" height="6.6" fill="#fff" stroke="#0a0af0" stroke-width="0.95"/>
<rect x="489.85" y="8.4" width="6.6" height="6.6" fill="#fff" stroke="#0a0af0" stroke-width="0.95"/>
<rect x="495.4" y="1.42" width="6.6" height="6.6" fill="#fff" stroke="#0a0af0" stroke-width="0.95"/>
</g>
<rect x="74.4" y="19.7" width="427" height="343.4" fill="none" stroke="#000" stroke-width="1.3"/>
<path d="M91.01 363.1v-3.2M91.01 19.7v3.2M100.78 363.1v-3.2M100.78 19.7v3.2M107.71 363.1v-3.2M107.71 19.7v3.2M113.09 363.1v-3.2M113.09 19.7v3.2M117.49 363.1v-3.2M117.49 19.7v3.2M121.2 363.1v-3.2M121.2 19.7v3.2M124.42 363.1v-3.2M124.42 19.7v3.2M127.26 363.1v-3.2M127.26 19.7v3.2M129.8 363.1v-6.4M129.8 19.7v6.4M146.51 363.1v-3.2M146.51 19.7v3.2M156.28 363.1v-3.2M156.28 19.7v3.2M163.21 363.1v-3.2M163.21 19.7v3.2M168.59 363.1v-3.2M168.59 19.7v3.2M172.99 363.1v-3.2M172.99 19.7v3.2M176.7 363.1v-3.2M176.7 19.7v3.2M179.92 363.1v-3.2M179.92 19.7v3.2M182.76 363.1v-3.2M182.76 19.7v3.2M185.3 363.1v-6.4M185.3 19.7v6.4M202.01 363.1v-3.2M202.01 19.7v3.2M211.78 363.1v-3.2M211.78 19.7v3.2M218.71 363.1v-3.2M218.71 19.7v3.2M224.09 363.1v-3.2M224.09 19.7v3.2M228.49 363.1v-3.2M228.49 19.7v3.2M232.2 363.1v-3.2M232.2 19.7v3.2M235.42 363.1v-3.2M235.42 19.7v3.2M238.26 363.1v-3.2M238.26 19.7v3.2M240.8 363.1v-6.4M240.8 19.7v6.4M257.51 363.1v-3.2M257.51 19.7v3.2M267.28 363.1v-3.2M267.28 19.7v3.2M274.21 363.1v-3.2M274.21 19.7v3.2M279.59 363.1v-3.2M279.59 19.7v3.2M283.99 363.1v-3.2M283.99 19.7v3.2M287.7 363.1v-3.2M287.7 19.7v3.2M290.92 363.1v-3.2M290.92 19.7v3.2M293.76 363.1v-3.2M293.76 19.7v3.2M296.3 363.1v-6.4M296.3 19.7v6.4M313.01 363.1v-3.2M313.01 19.7v3.2M322.78 363.1v-3.2M322.78 19.7v3.2M329.71 363.1v-3.2M329.71 19.7v3.2M335.09 363.1v-3.2M335.09 19.7v3.2M339.49 363.1v-3.2M339.49 19.7v3.2M343.2 363.1v-3.2M343.2 19.7v3.2M346.42 363.1v-3.2M346.42 19.7v3.2M349.26 363.1v-3.2M349.26 19.7v3.2M351.8 363.1v-6.4M351.8 19.7v6.4M368.51 363.1v-3.2M368.51 19.7v3.2M378.28 363.1v-3.2M378.28 19.7v3.2M385.21 363.1v-3.2M385.21 19.7v3.2M390.59 363.1v-3.2M390.59 19.7v3.2M394.99 363.1v-3.2M394.99 19.7v3.2M398.7 363.1v-3.2M398.7 19.7v3.2M401.92 363.1v-3.2M401.92 19.7v3.2M404.76 363.1v-3.2M404.76 19.7v3.2M407.3 363.1v-6.4M407.3 19.7v6.4M424.01 363.1v-3.2M424.01 19.7v3.2M433.78 363.1v-3.2M433.78 19.7v3.2M440.71 363.1v-3.2M440.71 19.7v3.2M446.09 363.1v-3.2M446.09 19.7v3.2M450.49 363.1v-3.2M450.49 19.7v3.2M454.2 363.1v-3.2M454.2 19.7v3.2M457.42 363.1v-3.2M457.42 19.7v3.2M460.26 363.1v-3.2M460.26 19.7v3.2M462.8 363.1v-6.4M462.8 19.7v6.4M479.51 363.1v-3.2M479.51 19.7v3.2M489.28 363.1v-3.2M489.28 19.7v3.2M496.21 363.1v-3.2M496.21 19.7v3.2M74.4 362.75h3.2M501.4 362.75h-3.2M74.4 355.56h3.2M501.4 355.56h-3.2M74.4 349.48h3.2M501.4 349.48h-3.2M74.4 344.21h3.2M501.4 344.21h-3.2M74.4 339.56h3.2M501.4 339.56h-3.2M74.4 335.4h6.4M501.4 335.4h-6.4M74.4 308.05h3.2M501.4 308.05h-3.2M74.4 292.04h3.2M501.4 292.04h-3.2M74.4 280.69h3.2M501.4 280.69h-3.2M74.4 271.88h3.2M501.4 271.88h-3.2M74.4 264.69h3.2M501.4 264.69h-3.2M74.4 258.61h3.2M501.4 258.61h-3.2M74.4 253.34h3.2M501.4 253.34h-3.2M74.4 248.69h3.2M501.4 248.69h-3.2M74.4 244.53h6.4M501.4 244.53h-6.4M74.4 217.18h3.2M501.4 217.18h-3.2M74.4 201.17h3.2M501.4 201.17h-3.2M74.4 189.82h3.2M501.4 189.82h-3.2M74.4 181.01h3.2M501.4 181.01h-3.2M74.4 173.82h3.2M501.4 173.82h-3.2M74.4 167.74h3.2M501.4 167.74h-3.2M74.4 162.47h3.2M501.4 162.47h-3.2M74.4 157.82h3.2M501.4 157.82h-3.2M74.4 153.66h6.4M501.4 153.66h-6.4M74.4 126.31h3.2M501.4 126.31h-3.2M74.4 110.3h3.2M501.4 110.3h-3.2M74.4 98.95h3.2M501.4 98.95h-3.2M74.4 90.14h3.2M501.4 90.14h-3.2M74.4 82.95h3.2M501.4 82.95h-3.2M74.4 76.87h3.2M501.4 76.87h-3.2M74.4 71.6h3.2M501.4 71.6h-3.2M74.4 66.95h3.2M501.4 66.95h-3.2M74.4 62.79h6.4M501.4 62.79h-6.4M74.4 35.44h3.2M501.4 35.44h-3.2" stroke="#000" stroke-width="1.2" fill="none"/>
<text transform="translate(57.5,389.4) scale(0.92,1)" font-size="21.3" fill="#111">10<tspan dy="-8.52" font-size="13.7">-5</tspan></text>
<text transform="translate(113,389.4) scale(0.92,1)" font-size="21.3" fill="#111">10<tspan dy="-8.52" font-size="13.7">-4</tspan></text>
<text transform="translate(168.5,389.4) scale(0.92,1)" font-size="21.3" fill="#111">10<tspan dy="-8.52" font-size="13.7">-3</tspan></text>
<text transform="translate(224,389.4) scale(0.92,1)" font-size="21.3" fill="#111">10<tspan dy="-8.52" font-size="13.7">-2</tspan></text>
<text transform="translate(279.5,389.4) scale(0.92,1)" font-size="21.3" fill="#111">10<tspan dy="-8.52" font-size="13.7">-1</tspan></text>
<text transform="translate(337.1,389.4) scale(0.92,1)" font-size="21.3" fill="#111">10<tspan dy="-8.52" font-size="13.7">0</tspan></text>
<text transform="translate(392.6,389.4) scale(0.92,1)" font-size="21.3" fill="#111">10<tspan dy="-8.52" font-size="13.7">1</tspan></text>
<text transform="translate(448.1,389.4) scale(0.92,1)" font-size="21.3" fill="#111">10<tspan dy="-8.52" font-size="13.7">2</tspan></text>
<text transform="translate(38.2,343) scale(0.92,1)" font-size="21.3" fill="#111">10<tspan dy="-8.52" font-size="13.7">2</tspan></text>
<text transform="translate(38.2,252.13) scale(0.92,1)" font-size="21.3" fill="#111">10<tspan dy="-8.52" font-size="13.7">3</tspan></text>
<text transform="translate(38.2,161.26) scale(0.92,1)" font-size="21.3" fill="#111">10<tspan dy="-8.52" font-size="13.7">4</tspan></text>
<text transform="translate(38.2,70.39) scale(0.92,1)" font-size="21.3" fill="#111">10<tspan dy="-8.52" font-size="13.7">5</tspan></text>
<circle cx="109.8" cy="43.9" r="4.5" fill="#0a7d12"/>
<polygon points="109.8,60.65 104.8,69.35 114.8,69.35" fill="#f00000"/>
<rect x="106.65" y="84.65" width="6.5" height="6.5" fill="#0a0af0"/>
<text x="135.2" y="50.3" font-size="18" fill="#0a7d12">PS-1760k/4k-18</text>
<text x="135.2" y="71.8" font-size="18" fill="#f00000">PS-864k/4k-17</text>
<text x="135.2" y="94.0" font-size="18" fill="#0a0af0">PS-576k/4k-17</text>
<text x="134.4" y="116.8" font-size="14.4" fill="#111">Closed: G'</text>
<text x="218.9" y="116.8" font-size="14.4" fill="#111">Open: G"</text>
<text transform="translate(24,201.4) scale(1,1.058) rotate(-90)" font-size="21.6" fill="#111">G', G" [Pa]</text>
<text x="255.4" y="423.8" style="font-family:'Liberation Serif',serif" font-size="21.5" fill="#111">ω</text>
<text x="276.8" y="423.6" font-size="23" fill="#111">[rad/s]</text>
<text x="0" y="20" font-size="24.5" fill="#111">(a)</text>
<clipPath id="cb"><rect x="76" y="447" width="427.3" height="344"/></clipPath>
<path d="M287.9 452.3V791" stroke="#727272" stroke-width="1.6" stroke-dasharray="8.4 8.08" fill="none"/>
<g clip-path="url(#cb)">
<circle cx="113.5" cy="521.9" r="3.7" fill="#fff" stroke="#0c7a14" stroke-width="1.3"/>
<circle cx="124.2" cy="545.9" r="3.7" fill="#fff" stroke="#0c7a14" stroke-width="1.3"/>
<circle cx="134.1" cy="573.3" r="3.7" fill="#fff" stroke="#0c7a14" stroke-width="1.3"/>
<circle cx="141.8" cy="606.5" r="3.7" fill="#fff" stroke="#0c7a14" stroke-width="1.3"/>
<circle cx="147.5" cy="636.3" r="3.7" fill="#fff" stroke="#0c7a14" stroke-width="1.3"/>
<circle cx="152.1" cy="661" r="3.7" fill="#fff" stroke="#0c7a14" stroke-width="1.3"/>
<circle cx="154.6" cy="673.2" r="3.7" fill="#fff" stroke="#0c7a14" stroke-width="1.3"/>
<circle cx="156.4" cy="681" r="3.7" fill="#fff" stroke="#0c7a14" stroke-width="1.3"/>
<circle cx="158.2" cy="688.6" r="3.7" fill="#fff" stroke="#0c7a14" stroke-width="1.3"/>
<circle cx="160" cy="696.5" r="3.7" fill="#fff" stroke="#0c7a14" stroke-width="1.3"/>
<circle cx="161.8" cy="704" r="3.7" fill="#fff" stroke="#0c7a14" stroke-width="1.3"/>
<circle cx="163.4" cy="710.5" r="3.7" fill="#fff" stroke="#0c7a14" stroke-width="1.3"/>
<circle cx="165" cy="716.5" r="3.7" fill="#fff" stroke="#0c7a14" stroke-width="1.3"/>
<circle cx="166.6" cy="722" r="3.7" fill="#fff" stroke="#0c7a14" stroke-width="1.3"/>
<circle cx="168.2" cy="727.6" r="3.7" fill="#fff" stroke="#0c7a14" stroke-width="1.3"/>
<circle cx="169.8" cy="733" r="3.7" fill="#fff" stroke="#0c7a14" stroke-width="1.3"/>
<circle cx="171.4" cy="738" r="3.7" fill="#fff" stroke="#0c7a14" stroke-width="1.3"/>
<circle cx="173" cy="742.6" r="3.7" fill="#fff" stroke="#0c7a14" stroke-width="1.3"/>
<circle cx="174.6" cy="747" r="3.7" fill="#fff" stroke="#0c7a14" stroke-width="1.3"/>
<circle cx="176.3" cy="751.5" r="3.7" fill="#fff" stroke="#0c7a14" stroke-width="1.3"/>
<circle cx="178.2" cy="755.8" r="3.7" fill="#fff" stroke="#0c7a14" stroke-width="1.3"/>
<circle cx="180.4" cy="759.6" r="3.7" fill="#fff" stroke="#0c7a14" stroke-width="1.3"/>
<circle cx="182.2" cy="760.4" r="3.7" fill="#fff" stroke="#0c7a14" stroke-width="1.3"/>
<circle cx="184" cy="757.8" r="3.7" fill="#fff" stroke="#0c7a14" stroke-width="1.3"/>
<circle cx="185.4" cy="753.5" r="3.7" fill="#fff" stroke="#0c7a14" stroke-width="1.3"/>
<circle cx="186.6" cy="748.5" r="3.7" fill="#fff" stroke="#0c7a14" stroke-width="1.3"/>
<circle cx="187.8" cy="743" r="3.7" fill="#fff" stroke="#0c7a14" stroke-width="1.3"/>
<circle cx="188.9" cy="737.7" r="3.7" fill="#fff" stroke="#0c7a14" stroke-width="1.3"/>
<circle cx="190" cy="732.3" r="3.7" fill="#fff" stroke="#0c7a14" stroke-width="1.3"/>
<circle cx="191.1" cy="726.9" r="3.7" fill="#fff" stroke="#0c7a14" stroke-width="1.3"/>
<circle cx="192.3" cy="721.5" r="3.7" fill="#fff" stroke="#0c7a14" stroke-width="1.3"/>
<circle cx="193.5" cy="716.2" r="3.7" fill="#fff" stroke="#0c7a14" stroke-width="1.3"/>
<circle cx="194.6" cy="710.8" r="3.7" fill="#fff" stroke="#0c7a14" stroke-width="1.3"/>
<circle cx="195.7" cy="705.4" r="3.7" fill="#fff" stroke="#0c7a14" stroke-width="1.3"/>
<circle cx="197" cy="699.5" r="3.7" fill="#fff" stroke="#0c7a14" stroke-width="1.3"/>
<circle cx="198.2" cy="693.8" r="3.7" fill="#fff" stroke="#0c7a14" stroke-width="1.3"/>
<circle cx="199.7" cy="687.7" r="3.7" fill="#fff" stroke="#0c7a14" stroke-width="1.3"/>
<circle cx="201" cy="681.5" r="3.7" fill="#fff" stroke="#0c7a14" stroke-width="1.3"/>
<circle cx="202.4" cy="675.2" r="3.7" fill="#fff" stroke="#0c7a14" stroke-width="1.3"/>
<circle cx="204.2" cy="668.5" r="3.7" fill="#fff" stroke="#0c7a14" stroke-width="1.3"/>
<circle cx="206.2" cy="661.8" r="3.7" fill="#fff" stroke="#0c7a14" stroke-width="1.3"/>
<circle cx="208.4" cy="654.6" r="3.7" fill="#fff" stroke="#0c7a14" stroke-width="1.3"/>
<circle cx="210.8" cy="647.2" r="3.7" fill="#fff" stroke="#0c7a14" stroke-width="1.3"/>
<circle cx="213.2" cy="640" r="3.7" fill="#fff" stroke="#0c7a14" stroke-width="1.3"/>
<circle cx="221.1" cy="618.44" r="3.7" fill="#fff" stroke="#0c7a14" stroke-width="1.3"/>
<circle cx="223.97" cy="610.72" r="3.7" fill="#fff" stroke="#0c7a14" stroke-width="1.3"/>
<circle cx="227.74" cy="603.99" r="3.7" fill="#fff" stroke="#0c7a14" stroke-width="1.3"/>
<circle cx="231.62" cy="596.26" r="3.7" fill="#fff" stroke="#0c7a14" stroke-width="1.3"/>
<circle cx="235.79" cy="589.44" r="3.7" fill="#fff" stroke="#0c7a14" stroke-width="1.3"/>
<circle cx="240.16" cy="582.72" r="3.7" fill="#fff" stroke="#0c7a14" stroke-width="1.3"/>
<circle cx="244.03" cy="574.99" r="3.7" fill="#fff" stroke="#0c7a14" stroke-width="1.3"/>
<circle cx="247.81" cy="568.27" r="3.7" fill="#fff" stroke="#0c7a14" stroke-width="1.3"/>
<circle cx="252.58" cy="561.54" r="3.7" fill="#fff" stroke="#0c7a14" stroke-width="1.3"/>
<circle cx="256.85" cy="555.72" r="3.7" fill="#fff" stroke="#0c7a14" stroke-width="1.3"/>
<circle cx="261.82" cy="548.99" r="3.7" fill="#fff" stroke="#0c7a14" stroke-width="1.3"/>
<circle cx="265.99" cy="544.17" r="3.7" fill="#fff" stroke="#0c7a14" stroke-width="1.3"/>
<circle cx="271.77" cy="538.94" r="3.7" fill="#fff" stroke="#0c7a14" stroke-width="1.3"/>
<circle cx="276.54" cy="534.41" r="3.7" fill="#fff" stroke="#0c7a14" stroke-width="1.3"/>
<circle cx="282.21" cy="528.69" r="3.7" fill="#fff" stroke="#0c7a14" stroke-width="1.3"/>
<circle cx="286.98" cy="524.76" r="3.7" fill="#fff" stroke="#0c7a14" stroke-width="1.3"/>
<circle cx="292.76" cy="520.94" r="3.7" fill="#fff" stroke="#0c7a14" stroke-width="1.3"/>
<circle cx="298.53" cy="517.62" r="3.7" fill="#fff" stroke="#0c7a14" stroke-width="1.3"/>
<circle cx="303.9" cy="514.59" r="3.7" fill="#fff" stroke="#0c7a14" stroke-width="1.3"/>
<circle cx="313.3" cy="510.3" r="3.7" fill="#fff" stroke="#0c7a14" stroke-width="1.3"/>
<circle cx="324.1" cy="507.3" r="3.7" fill="#fff" stroke="#0c7a14" stroke-width="1.3"/>
<circle cx="335.3" cy="505.8" r="3.7" fill="#fff" stroke="#0c7a14" stroke-width="1.3"/>
<circle cx="346.6" cy="505.8" r="3.7" fill="#fff" stroke="#0c7a14" stroke-width="1.3"/>
<circle cx="353.5" cy="506.1" r="3.7" fill="#fff" stroke="#0c7a14" stroke-width="1.3"/>
<circle cx="364.8" cy="508.4" r="3.7" fill="#fff" stroke="#0c7a14" stroke-width="1.3"/>
<circle cx="374.8" cy="509.4" r="3.7" fill="#fff" stroke="#0c7a14" stroke-width="1.3"/>
<circle cx="383.5" cy="509.6" r="3.7" fill="#fff" stroke="#0c7a14" stroke-width="1.3"/>
<circle cx="392.3" cy="510.3" r="3.7" fill="#fff" stroke="#0c7a14" stroke-width="1.3"/>
<circle cx="401" cy="511.2" r="3.7" fill="#fff" stroke="#0c7a14" stroke-width="1.3"/>
<circle cx="407.3" cy="512.2" r="3.7" fill="#fff" stroke="#0c7a14" stroke-width="1.3"/>
<circle cx="410.3" cy="513.6" r="3.7" fill="#fff" stroke="#0c7a14" stroke-width="1.3"/>
<circle cx="417.3" cy="516.6" r="3.7" fill="#fff" stroke="#0c7a14" stroke-width="1.3"/>
<circle cx="421.5" cy="519.1" r="3.7" fill="#fff" stroke="#0c7a14" stroke-width="1.3"/>
<circle cx="426.6" cy="523.4" r="3.7" fill="#fff" stroke="#0c7a14" stroke-width="1.3"/>
<circle cx="430.5" cy="527.1" r="3.7" fill="#fff" stroke="#0c7a14" stroke-width="1.3"/>
<circle cx="436.6" cy="533.5" r="3.7" fill="#fff" stroke="#0c7a14" stroke-width="1.3"/>
<circle cx="438.18" cy="537.27" r="3.7" fill="#fff" stroke="#0c7a14" stroke-width="1.3"/>
<circle cx="441.13" cy="543.62" r="3.7" fill="#fff" stroke="#0c7a14" stroke-width="1.3"/>
<circle cx="444.69" cy="549.62" r="3.7" fill="#fff" stroke="#0c7a14" stroke-width="1.3"/>
<circle cx="447.71" cy="555.93" r="3.7" fill="#fff" stroke="#0c7a14" stroke-width="1.3"/>
<circle cx="451.07" cy="562.04" r="3.7" fill="#fff" stroke="#0c7a14" stroke-width="1.3"/>
<circle cx="454.05" cy="568.28" r="3.7" fill="#fff" stroke="#0c7a14" stroke-width="1.3"/>
<circle cx="456.19" cy="574.95" r="3.7" fill="#fff" stroke="#0c7a14" stroke-width="1.3"/>
<circle cx="459.03" cy="581.28" r="3.7" fill="#fff" stroke="#0c7a14" stroke-width="1.3"/>
<circle cx="461.61" cy="587.71" r="3.7" fill="#fff" stroke="#0c7a14" stroke-width="1.3"/>
<circle cx="463.44" cy="594.47" r="3.7" fill="#fff" stroke="#0c7a14" stroke-width="1.3"/>
<circle cx="465.79" cy="601.04" r="3.7" fill="#fff" stroke="#0c7a14" stroke-width="1.3"/>
<circle cx="468.13" cy="607.62" r="3.7" fill="#fff" stroke="#0c7a14" stroke-width="1.3"/>
<circle cx="470.06" cy="614.34" r="3.7" fill="#fff" stroke="#0c7a14" stroke-width="1.3"/>
<circle cx="472.02" cy="621.06" r="3.7" fill="#fff" stroke="#0c7a14" stroke-width="1.3"/>
<circle cx="475.4" cy="640.2" r="3.7" fill="#fff" stroke="#0c7a14" stroke-width="1.3"/>
<circle cx="480.5" cy="668.7" r="3.7" fill="#fff" stroke="#0c7a14" stroke-width="1.3"/>
<circle cx="484.9" cy="691.5" r="3.7" fill="#fff" stroke="#0c7a14" stroke-width="1.3"/>
<circle cx="487.8" cy="705" r="3.7" fill="#fff" stroke="#0c7a14" stroke-width="1.3"/>
<circle cx="490.6" cy="718" r="3.7" fill="#fff" stroke="#0c7a14" stroke-width="1.3"/>
<polygon points="123.6,531.5 119.2,539.1 128,539.1" fill="#fff" stroke="#ee0a1e" stroke-width="1.3" stroke-linejoin="miter"/>
<polygon points="133.5,557.6 129.1,565.2 137.9,565.2" fill="#fff" stroke="#ee0a1e" stroke-width="1.3" stroke-linejoin="miter"/>
<polygon points="142.7,591.5 138.3,599.1 147.1,599.1" fill="#fff" stroke="#ee0a1e" stroke-width="1.3" stroke-linejoin="miter"/>
<polygon points="148.8,622 144.4,629.6 153.2,629.6" fill="#fff" stroke="#ee0a1e" stroke-width="1.3" stroke-linejoin="miter"/>
<polygon points="152.5,649.5 148.1,657.1 156.9,657.1" fill="#fff" stroke="#ee0a1e" stroke-width="1.3" stroke-linejoin="miter"/>
<polygon points="154.3,655.7 149.9,663.3 158.7,663.3" fill="#fff" stroke="#ee0a1e" stroke-width="1.3" stroke-linejoin="miter"/>
<polygon points="156.4,662 152,669.6 160.8,669.6" fill="#fff" stroke="#ee0a1e" stroke-width="1.3" stroke-linejoin="miter"/>
<polygon points="158.4,669.4 154,677 162.8,677" fill="#fff" stroke="#ee0a1e" stroke-width="1.3" stroke-linejoin="miter"/>
<polygon points="160.3,675.7 155.9,683.3 164.7,683.3" fill="#fff" stroke="#ee0a1e" stroke-width="1.3" stroke-linejoin="miter"/>
<polygon points="162.2,684.5 157.8,692.1 166.6,692.1" fill="#fff" stroke="#ee0a1e" stroke-width="1.3" stroke-linejoin="miter"/>
<polygon points="163.8,690.7 159.4,698.3 168.2,698.3" fill="#fff" stroke="#ee0a1e" stroke-width="1.3" stroke-linejoin="miter"/>
<polygon points="165.6,696.2 161.2,703.8 170,703.8" fill="#fff" stroke="#ee0a1e" stroke-width="1.3" stroke-linejoin="miter"/>
<polygon points="167.4,701.3 163,708.9 171.8,708.9" fill="#fff" stroke="#ee0a1e" stroke-width="1.3" stroke-linejoin="miter"/>
<polygon points="169.2,705.9 164.8,713.5 173.6,713.5" fill="#fff" stroke="#ee0a1e" stroke-width="1.3" stroke-linejoin="miter"/>
<polygon points="171.2,710.3 166.8,717.9 175.6,717.9" fill="#fff" stroke="#ee0a1e" stroke-width="1.3" stroke-linejoin="miter"/>
<polygon points="173.2,713.7 168.8,721.3 177.6,721.3" fill="#fff" stroke="#ee0a1e" stroke-width="1.3" stroke-linejoin="miter"/>
<polygon points="175.3,716.3 170.9,723.9 179.7,723.9" fill="#fff" stroke="#ee0a1e" stroke-width="1.3" stroke-linejoin="miter"/>
<polygon points="177.6,718 173.2,725.6 182,725.6" fill="#fff" stroke="#ee0a1e" stroke-width="1.3" stroke-linejoin="miter"/>
<polygon points="180,717.2 175.6,724.8 184.4,724.8" fill="#fff" stroke="#ee0a1e" stroke-width="1.3" stroke-linejoin="miter"/>
<polygon points="182.2,714.2 177.8,721.8 186.6,721.8" fill="#fff" stroke="#ee0a1e" stroke-width="1.3" stroke-linejoin="miter"/>
<polygon points="184.2,709.9 179.8,717.5 188.6,717.5" fill="#fff" stroke="#ee0a1e" stroke-width="1.3" stroke-linejoin="miter"/>
<polygon points="186,704.7 181.6,712.3 190.4,712.3" fill="#fff" stroke="#ee0a1e" stroke-width="1.3" stroke-linejoin="miter"/>
<polygon points="187.8,699.7 183.4,707.3 192.2,707.3" fill="#fff" stroke="#ee0a1e" stroke-width="1.3" stroke-linejoin="miter"/>
<polygon points="189.6,694.9 185.2,702.5 194,702.5" fill="#fff" stroke="#ee0a1e" stroke-width="1.3" stroke-linejoin="miter"/>
<polygon points="191.4,690.2 187,697.8 195.8,697.8" fill="#fff" stroke="#ee0a1e" stroke-width="1.3" stroke-linejoin="miter"/>
<polygon points="193.2,685.2 188.8,692.8 197.6,692.8" fill="#fff" stroke="#ee0a1e" stroke-width="1.3" stroke-linejoin="miter"/>
<polygon points="195,679.7 190.6,687.3 199.4,687.3" fill="#fff" stroke="#ee0a1e" stroke-width="1.3" stroke-linejoin="miter"/>
<polygon points="197.5,672 193.1,679.6 201.9,679.6" fill="#fff" stroke="#ee0a1e" stroke-width="1.3" stroke-linejoin="miter"/>
<polygon points="200.5,663.2 196.1,670.8 204.9,670.8" fill="#fff" stroke="#ee0a1e" stroke-width="1.3" stroke-linejoin="miter"/>
<polygon points="203.6,654.5 199.2,662.1 208,662.1" fill="#fff" stroke="#ee0a1e" stroke-width="1.3" stroke-linejoin="miter"/>
<polygon points="206.3,647 201.9,654.6 210.7,654.6" fill="#fff" stroke="#ee0a1e" stroke-width="1.3" stroke-linejoin="miter"/>
<polygon points="209,638.9 204.6,646.5 213.4,646.5" fill="#fff" stroke="#ee0a1e" stroke-width="1.3" stroke-linejoin="miter"/>
<polygon points="211.6,631.7 207.2,639.3 216,639.3" fill="#fff" stroke="#ee0a1e" stroke-width="1.3" stroke-linejoin="miter"/>
<polygon points="215.5,619.22 211.1,626.82 219.9,626.82" fill="#fff" stroke="#ee0a1e" stroke-width="1.3" stroke-linejoin="miter"/>
<polygon points="219.26,612.48 214.86,620.08 223.66,620.08" fill="#fff" stroke="#ee0a1e" stroke-width="1.3" stroke-linejoin="miter"/>
<polygon points="222.12,604.74 217.72,612.34 226.52,612.34" fill="#fff" stroke="#ee0a1e" stroke-width="1.3" stroke-linejoin="miter"/>
<polygon points="225.87,598.01 221.47,605.61 230.27,605.61" fill="#fff" stroke="#ee0a1e" stroke-width="1.3" stroke-linejoin="miter"/>
<polygon points="229.73,590.27 225.33,597.87 234.13,597.87" fill="#fff" stroke="#ee0a1e" stroke-width="1.3" stroke-linejoin="miter"/>
<polygon points="233.89,583.43 229.49,591.03 238.29,591.03" fill="#fff" stroke="#ee0a1e" stroke-width="1.3" stroke-linejoin="miter"/>
<polygon points="238.25,576.69 233.85,584.29 242.65,584.29" fill="#fff" stroke="#ee0a1e" stroke-width="1.3" stroke-linejoin="miter"/>
<polygon points="242.11,568.95 237.71,576.55 246.51,576.55" fill="#fff" stroke="#ee0a1e" stroke-width="1.3" stroke-linejoin="miter"/>
<polygon points="245.86,562.22 241.46,569.82 250.26,569.82" fill="#fff" stroke="#ee0a1e" stroke-width="1.3" stroke-linejoin="miter"/>
<polygon points="250.62,555.48 246.22,563.08 255.02,563.08" fill="#fff" stroke="#ee0a1e" stroke-width="1.3" stroke-linejoin="miter"/>
<polygon points="254.88,549.64 250.48,557.24 259.28,557.24" fill="#fff" stroke="#ee0a1e" stroke-width="1.3" stroke-linejoin="miter"/>
<polygon points="259.84,542.9 255.44,550.5 264.24,550.5" fill="#fff" stroke="#ee0a1e" stroke-width="1.3" stroke-linejoin="miter"/>
<polygon points="263.99,538.07 259.59,545.67 268.39,545.67" fill="#fff" stroke="#ee0a1e" stroke-width="1.3" stroke-linejoin="miter"/>
<polygon points="269.75,532.83 265.35,540.43 274.15,540.43" fill="#fff" stroke="#ee0a1e" stroke-width="1.3" stroke-linejoin="miter"/>
<polygon points="274.51,528.29 270.11,535.89 278.91,535.89" fill="#fff" stroke="#ee0a1e" stroke-width="1.3" stroke-linejoin="miter"/>
<polygon points="280.17,522.55 275.77,530.15 284.57,530.15" fill="#fff" stroke="#ee0a1e" stroke-width="1.3" stroke-linejoin="miter"/>
<polygon points="284.93,518.61 280.53,526.21 289.33,526.21" fill="#fff" stroke="#ee0a1e" stroke-width="1.3" stroke-linejoin="miter"/>
<polygon points="290.68,514.78 286.28,522.38 295.08,522.38" fill="#fff" stroke="#ee0a1e" stroke-width="1.3" stroke-linejoin="miter"/>
<polygon points="296.44,511.44 292.04,519.04 300.84,519.04" fill="#fff" stroke="#ee0a1e" stroke-width="1.3" stroke-linejoin="miter"/>
<polygon points="301.8,508.4 297.4,516 306.2,516" fill="#fff" stroke="#ee0a1e" stroke-width="1.3" stroke-linejoin="miter"/>
<polygon points="315.3,503.4 310.9,511 319.7,511" fill="#fff" stroke="#ee0a1e" stroke-width="1.3" stroke-linejoin="miter"/>
<polygon points="326.1,500.4 321.7,508 330.5,508" fill="#fff" stroke="#ee0a1e" stroke-width="1.3" stroke-linejoin="miter"/>
<polygon points="337.3,498.9 332.9,506.5 341.7,506.5" fill="#fff" stroke="#ee0a1e" stroke-width="1.3" stroke-linejoin="miter"/>
<polygon points="348.6,498.9 344.2,506.5 353,506.5" fill="#fff" stroke="#ee0a1e" stroke-width="1.3" stroke-linejoin="miter"/>
<polygon points="359.8,500.4 355.4,508 364.2,508" fill="#fff" stroke="#ee0a1e" stroke-width="1.3" stroke-linejoin="miter"/>
<polygon points="371.1,502.7 366.7,510.3 375.5,510.3" fill="#fff" stroke="#ee0a1e" stroke-width="1.3" stroke-linejoin="miter"/>
<polygon points="381.1,503.7 376.7,511.3 385.5,511.3" fill="#fff" stroke="#ee0a1e" stroke-width="1.3" stroke-linejoin="miter"/>
<polygon points="389.8,503.9 385.4,511.5 394.2,511.5" fill="#fff" stroke="#ee0a1e" stroke-width="1.3" stroke-linejoin="miter"/>
<polygon points="398.6,504.6 394.2,512.2 403,512.2" fill="#fff" stroke="#ee0a1e" stroke-width="1.3" stroke-linejoin="miter"/>
<polygon points="407.3,505.5 402.9,513.1 411.7,513.1" fill="#fff" stroke="#ee0a1e" stroke-width="1.3" stroke-linejoin="miter"/>
<polygon points="413.6,506.5 409.2,514.1 418,514.1" fill="#fff" stroke="#ee0a1e" stroke-width="1.3" stroke-linejoin="miter"/>
<polygon points="416.6,507.9 412.2,515.5 421,515.5" fill="#fff" stroke="#ee0a1e" stroke-width="1.3" stroke-linejoin="miter"/>
<polygon points="423.6,510.9 419.2,518.5 428,518.5" fill="#fff" stroke="#ee0a1e" stroke-width="1.3" stroke-linejoin="miter"/>
<polygon points="427.8,513.4 423.4,521 432.2,521" fill="#fff" stroke="#ee0a1e" stroke-width="1.3" stroke-linejoin="miter"/>
<polygon points="432.9,517.7 428.5,525.3 437.3,525.3" fill="#fff" stroke="#ee0a1e" stroke-width="1.3" stroke-linejoin="miter"/>
<polygon points="436.8,521.4 432.4,529 441.2,529" fill="#fff" stroke="#ee0a1e" stroke-width="1.3" stroke-linejoin="miter"/>
<polygon points="442.9,527.8 438.5,535.4 447.3,535.4" fill="#fff" stroke="#ee0a1e" stroke-width="1.3" stroke-linejoin="miter"/>
<polygon points="442.95,533.65 438.55,541.25 447.35,541.25" fill="#fff" stroke="#ee0a1e" stroke-width="1.3" stroke-linejoin="miter"/>
<polygon points="446.09,539.89 441.69,547.49 450.49,547.49" fill="#fff" stroke="#ee0a1e" stroke-width="1.3" stroke-linejoin="miter"/>
<polygon points="449.5,545.97 445.1,553.57 453.9,553.57" fill="#fff" stroke="#ee0a1e" stroke-width="1.3" stroke-linejoin="miter"/>
<polygon points="452.52,552.29 448.12,559.89 456.92,559.89" fill="#fff" stroke="#ee0a1e" stroke-width="1.3" stroke-linejoin="miter"/>
<polygon points="456.28,558.15 451.88,565.75 460.68,565.75" fill="#fff" stroke="#ee0a1e" stroke-width="1.3" stroke-linejoin="miter"/>
<polygon points="458.42,564.81 454.02,572.41 462.82,572.41" fill="#fff" stroke="#ee0a1e" stroke-width="1.3" stroke-linejoin="miter"/>
<polygon points="460.56,571.48 456.16,579.08 464.96,579.08" fill="#fff" stroke="#ee0a1e" stroke-width="1.3" stroke-linejoin="miter"/>
<polygon points="464,577.53 459.6,585.13 468.4,585.13" fill="#fff" stroke="#ee0a1e" stroke-width="1.3" stroke-linejoin="miter"/>
<polygon points="465.83,584.29 461.43,591.89 470.23,591.89" fill="#fff" stroke="#ee0a1e" stroke-width="1.3" stroke-linejoin="miter"/>
<polygon points="467.66,591.04 463.26,598.64 472.06,598.64" fill="#fff" stroke="#ee0a1e" stroke-width="1.3" stroke-linejoin="miter"/>
<polygon points="470.46,597.45 466.06,605.05 474.86,605.05" fill="#fff" stroke="#ee0a1e" stroke-width="1.3" stroke-linejoin="miter"/>
<polygon points="472.39,604.18 467.99,611.78 476.79,611.78" fill="#fff" stroke="#ee0a1e" stroke-width="1.3" stroke-linejoin="miter"/>
<polygon points="474.33,610.91 469.93,618.51 478.73,618.51" fill="#fff" stroke="#ee0a1e" stroke-width="1.3" stroke-linejoin="miter"/>
<polygon points="476.32,617.62 471.92,625.22 480.72,625.22" fill="#fff" stroke="#ee0a1e" stroke-width="1.3" stroke-linejoin="miter"/>
<polygon points="481.2,642.3 476.8,649.9 485.6,649.9" fill="#fff" stroke="#ee0a1e" stroke-width="1.3" stroke-linejoin="miter"/>
<polygon points="486.6,661.8 482.2,669.4 491,669.4" fill="#fff" stroke="#ee0a1e" stroke-width="1.3" stroke-linejoin="miter"/>
<polygon points="489.6,681.2 485.2,688.8 494,688.8" fill="#fff" stroke="#ee0a1e" stroke-width="1.3" stroke-linejoin="miter"/>
<polygon points="493,694.7 488.6,702.3 497.4,702.3" fill="#fff" stroke="#ee0a1e" stroke-width="1.3" stroke-linejoin="miter"/>
<rect x="120.15" y="517.55" width="6.3" height="6.3" fill="#fff" stroke="#0a0ae6" stroke-width="1.3"/>
<rect x="130.95" y="536.65" width="6.3" height="6.3" fill="#fff" stroke="#0a0ae6" stroke-width="1.3"/>
<rect x="136.45" y="558.75" width="6.3" height="6.3" fill="#fff" stroke="#0a0ae6" stroke-width="1.3"/>
<rect x="140.15" y="568.95" width="6.3" height="6.3" fill="#fff" stroke="#0a0ae6" stroke-width="1.3"/>
<rect x="145.05" y="591.05" width="6.3" height="6.3" fill="#fff" stroke="#0a0ae6" stroke-width="1.3"/>
<rect x="147.65" y="603.85" width="6.3" height="6.3" fill="#fff" stroke="#0a0ae6" stroke-width="1.3"/>
<rect x="151.85" y="623.15" width="6.3" height="6.3" fill="#fff" stroke="#0a0ae6" stroke-width="1.3"/>
<rect x="153.85" y="631.85" width="6.3" height="6.3" fill="#fff" stroke="#0a0ae6" stroke-width="1.3"/>
<rect x="156.35" y="645.65" width="6.3" height="6.3" fill="#fff" stroke="#0a0ae6" stroke-width="1.3"/>
<rect x="158.85" y="654.85" width="6.3" height="6.3" fill="#fff" stroke="#0a0ae6" stroke-width="1.3"/>
<rect x="161.45" y="664.55" width="6.3" height="6.3" fill="#fff" stroke="#0a0ae6" stroke-width="1.3"/>
<rect x="163.85" y="674.35" width="6.3" height="6.3" fill="#fff" stroke="#0a0ae6" stroke-width="1.3"/>
<rect x="167.65" y="683.05" width="6.3" height="6.3" fill="#fff" stroke="#0a0ae6" stroke-width="1.3"/>
<rect x="171.45" y="687.65" width="6.3" height="6.3" fill="#fff" stroke="#0a0ae6" stroke-width="1.3"/>
<rect x="175.35" y="691.75" width="6.3" height="6.3" fill="#fff" stroke="#0a0ae6" stroke-width="1.3"/>
<rect x="179.95" y="689.95" width="6.3" height="6.3" fill="#fff" stroke="#0a0ae6" stroke-width="1.3"/>
<rect x="183.05" y="683.25" width="6.3" height="6.3" fill="#fff" stroke="#0a0ae6" stroke-width="1.3"/>
<rect x="185.45" y="678.85" width="6.3" height="6.3" fill="#fff" stroke="#0a0ae6" stroke-width="1.3"/>
<rect x="187.65" y="674.55" width="6.3" height="6.3" fill="#fff" stroke="#0a0ae6" stroke-width="1.3"/>
<rect x="190.35" y="668.85" width="6.3" height="6.3" fill="#fff" stroke="#0a0ae6" stroke-width="1.3"/>
<rect x="193.05" y="663.05" width="6.3" height="6.3" fill="#fff" stroke="#0a0ae6" stroke-width="1.3"/>
<rect x="196.25" y="655.65" width="6.3" height="6.3" fill="#fff" stroke="#0a0ae6" stroke-width="1.3"/>
<rect x="198.85" y="649.35" width="6.3" height="6.3" fill="#fff" stroke="#0a0ae6" stroke-width="1.3"/>
<rect x="201.85" y="641.85" width="6.3" height="6.3" fill="#fff" stroke="#0a0ae6" stroke-width="1.3"/>
<rect x="204.85" y="634.35" width="6.3" height="6.3" fill="#fff" stroke="#0a0ae6" stroke-width="1.3"/>
<rect x="206.65" y="626.35" width="6.3" height="6.3" fill="#fff" stroke="#0a0ae6" stroke-width="1.3"/>
<rect x="210.55" y="618.75" width="6.3" height="6.3" fill="#fff" stroke="#0a0ae6" stroke-width="1.3"/>
<rect x="214.35" y="612.05" width="6.3" height="6.3" fill="#fff" stroke="#0a0ae6" stroke-width="1.3"/>
<rect x="217.25" y="604.35" width="6.3" height="6.3" fill="#fff" stroke="#0a0ae6" stroke-width="1.3"/>
<rect x="221.05" y="597.65" width="6.3" height="6.3" fill="#fff" stroke="#0a0ae6" stroke-width="1.3"/>
<rect x="224.95" y="589.95" width="6.3" height="6.3" fill="#fff" stroke="#0a0ae6" stroke-width="1.3"/>
<rect x="229.15" y="583.15" width="6.3" height="6.3" fill="#fff" stroke="#0a0ae6" stroke-width="1.3"/>
<rect x="233.55" y="576.45" width="6.3" height="6.3" fill="#fff" stroke="#0a0ae6" stroke-width="1.3"/>
<rect x="237.45" y="568.75" width="6.3" height="6.3" fill="#fff" stroke="#0a0ae6" stroke-width="1.3"/>
<rect x="241.25" y="562.05" width="6.3" height="6.3" fill="#fff" stroke="#0a0ae6" stroke-width="1.3"/>
<rect x="246.05" y="555.35" width="6.3" height="6.3" fill="#fff" stroke="#0a0ae6" stroke-width="1.3"/>
<rect x="250.35" y="549.55" width="6.3" height="6.3" fill="#fff" stroke="#0a0ae6" stroke-width="1.3"/>
<rect x="255.35" y="542.85" width="6.3" height="6.3" fill="#fff" stroke="#0a0ae6" stroke-width="1.3"/>
<rect x="259.55" y="538.05" width="6.3" height="6.3" fill="#fff" stroke="#0a0ae6" stroke-width="1.3"/>
<rect x="265.35" y="532.85" width="6.3" height="6.3" fill="#fff" stroke="#0a0ae6" stroke-width="1.3"/>
<rect x="270.15" y="528.35" width="6.3" height="6.3" fill="#fff" stroke="#0a0ae6" stroke-width="1.3"/>
<rect x="275.85" y="522.65" width="6.3" height="6.3" fill="#fff" stroke="#0a0ae6" stroke-width="1.3"/>
<rect x="280.65" y="518.75" width="6.3" height="6.3" fill="#fff" stroke="#0a0ae6" stroke-width="1.3"/>
<rect x="286.45" y="514.95" width="6.3" height="6.3" fill="#fff" stroke="#0a0ae6" stroke-width="1.3"/>
<rect x="292.25" y="511.65" width="6.3" height="6.3" fill="#fff" stroke="#0a0ae6" stroke-width="1.3"/>
<rect x="297.65" y="508.65" width="6.3" height="6.3" fill="#fff" stroke="#0a0ae6" stroke-width="1.3"/>
<rect x="307.35" y="504.35" width="6.3" height="6.3" fill="#fff" stroke="#0a0ae6" stroke-width="1.3"/>
<rect x="318.15" y="501.35" width="6.3" height="6.3" fill="#fff" stroke="#0a0ae6" stroke-width="1.3"/>
<rect x="329.35" y="499.85" width="6.3" height="6.3" fill="#fff" stroke="#0a0ae6" stroke-width="1.3"/>
<rect x="340.65" y="499.85" width="6.3" height="6.3" fill="#fff" stroke="#0a0ae6" stroke-width="1.3"/>
<rect x="351.85" y="501.35" width="6.3" height="6.3" fill="#fff" stroke="#0a0ae6" stroke-width="1.3"/>
<rect x="363.15" y="503.65" width="6.3" height="6.3" fill="#fff" stroke="#0a0ae6" stroke-width="1.3"/>
<rect x="373.15" y="504.65" width="6.3" height="6.3" fill="#fff" stroke="#0a0ae6" stroke-width="1.3"/>
<rect x="381.85" y="504.85" width="6.3" height="6.3" fill="#fff" stroke="#0a0ae6" stroke-width="1.3"/>
<rect x="390.65" y="505.55" width="6.3" height="6.3" fill="#fff" stroke="#0a0ae6" stroke-width="1.3"/>
<rect x="399.35" y="506.45" width="6.3" height="6.3" fill="#fff" stroke="#0a0ae6" stroke-width="1.3"/>
<rect x="405.65" y="507.45" width="6.3" height="6.3" fill="#fff" stroke="#0a0ae6" stroke-width="1.3"/>
<rect x="408.65" y="508.85" width="6.3" height="6.3" fill="#fff" stroke="#0a0ae6" stroke-width="1.3"/>
<rect x="415.65" y="511.85" width="6.3" height="6.3" fill="#fff" stroke="#0a0ae6" stroke-width="1.3"/>
<rect x="419.85" y="514.35" width="6.3" height="6.3" fill="#fff" stroke="#0a0ae6" stroke-width="1.3"/>
<rect x="424.95" y="518.65" width="6.3" height="6.3" fill="#fff" stroke="#0a0ae6" stroke-width="1.3"/>
<rect x="428.85" y="522.35" width="6.3" height="6.3" fill="#fff" stroke="#0a0ae6" stroke-width="1.3"/>
<rect x="434.95" y="528.75" width="6.3" height="6.3" fill="#fff" stroke="#0a0ae6" stroke-width="1.3"/>
<rect x="440.35" y="540.35" width="6.3" height="6.3" fill="#fff" stroke="#0a0ae6" stroke-width="1.3"/>
<rect x="442.65" y="543.65" width="6.3" height="6.3" fill="#fff" stroke="#0a0ae6" stroke-width="1.3"/>
<rect x="448.05" y="554.95" width="6.3" height="6.3" fill="#fff" stroke="#0a0ae6" stroke-width="1.3"/>
<rect x="451.05" y="559.05" width="6.3" height="6.3" fill="#fff" stroke="#0a0ae6" stroke-width="1.3"/>
<rect x="455.65" y="573.35" width="6.3" height="6.3" fill="#fff" stroke="#0a0ae6" stroke-width="1.3"/>
<rect x="458.75" y="578.25" width="6.3" height="6.3" fill="#fff" stroke="#0a0ae6" stroke-width="1.3"/>
<rect x="462.65" y="592.65" width="6.3" height="6.3" fill="#fff" stroke="#0a0ae6" stroke-width="1.3"/>
<rect x="465.25" y="598.35" width="6.3" height="6.3" fill="#fff" stroke="#0a0ae6" stroke-width="1.3"/>
<rect x="469.65" y="613.65" width="6.3" height="6.3" fill="#fff" stroke="#0a0ae6" stroke-width="1.3"/>
<rect x="471.35" y="619.35" width="6.3" height="6.3" fill="#fff" stroke="#0a0ae6" stroke-width="1.3"/>
<rect x="475.65" y="642.25" width="6.3" height="6.3" fill="#fff" stroke="#0a0ae6" stroke-width="1.3"/>
<rect x="480.85" y="661.55" width="6.3" height="6.3" fill="#fff" stroke="#0a0ae6" stroke-width="1.3"/>
<rect x="484.35" y="679.95" width="6.3" height="6.3" fill="#fff" stroke="#0a0ae6" stroke-width="1.3"/>
<rect x="487.75" y="694.15" width="6.3" height="6.3" fill="#fff" stroke="#0a0ae6" stroke-width="1.3"/>
<path d="M86.5 475.3V485.1M81.99 480.2H91.01M82.09 475.79L90.91 484.61M82.09 484.61L90.91 475.79" stroke="#7a7a7a" stroke-width="1.25" fill="none"/>
<path d="M99.9 466V475.8M95.39 470.9H104.41M95.49 466.49L104.31 475.31M95.49 475.31L104.31 466.49" stroke="#7a7a7a" stroke-width="1.25" fill="none"/>
<path d="M109.5 460.2V470M104.99 465.1H114.01M105.09 460.69L113.91 469.51M105.09 469.51L113.91 460.69" stroke="#7a7a7a" stroke-width="1.25" fill="none"/>
<path d="M122.4 473.2V483M117.89 478.1H126.91M117.99 473.69L126.81 482.51M117.99 482.51L126.81 473.69" stroke="#7a7a7a" stroke-width="1.25" fill="none"/>
<path d="M133.5 466.3V476.1M128.99 471.2H138.01M129.09 466.79L137.91 475.61M129.09 475.61L137.91 466.79" stroke="#7a7a7a" stroke-width="1.25" fill="none"/>
<path d="M145.8 465.6V475.4M141.29 470.5H150.31M141.39 466.09L150.21 474.91M141.39 474.91L150.21 466.09" stroke="#7a7a7a" stroke-width="1.25" fill="none"/>
<path d="M158 458.6V468.4M153.49 463.5H162.51M153.59 459.09L162.41 467.91M153.59 467.91L162.41 459.09" stroke="#7a7a7a" stroke-width="1.25" fill="none"/>
<path d="M158 463.1V472.9M153.49 468H162.51M153.59 463.59L162.41 472.41M153.59 472.41L162.41 463.59" stroke="#7a7a7a" stroke-width="1.25" fill="none"/>
<path d="M171 460.3V470.1M166.49 465.2H175.51M166.59 460.79L175.41 469.61M166.59 469.61L175.41 460.79" stroke="#7a7a7a" stroke-width="1.25" fill="none"/>
<path d="M171 463.1V472.9M166.49 468H175.51M166.59 463.59L175.41 472.41M166.59 472.41L175.41 463.59" stroke="#7a7a7a" stroke-width="1.25" fill="none"/>
<path d="M182.7 462.3V472.1M178.19 467.2H187.21M178.29 462.79L187.11 471.61M178.29 471.61L187.11 462.79" stroke="#7a7a7a" stroke-width="1.25" fill="none"/>
<path d="M182.7 469.7V479.5M178.19 474.6H187.21M178.29 470.19L187.11 479.01M178.29 479.01L187.11 470.19" stroke="#7a7a7a" stroke-width="1.25" fill="none"/>
<path d="M195 460.1V469.9M190.49 465H199.51M190.59 460.59L199.41 469.41M190.59 469.41L199.41 460.59" stroke="#7a7a7a" stroke-width="1.25" fill="none"/>
<path d="M197 462.4V472.2M192.49 467.3H201.51M192.59 462.89L201.41 471.71M192.59 471.71L201.41 462.89" stroke="#7a7a7a" stroke-width="1.25" fill="none"/>
<path d="M207.3 463.1V472.9M202.79 468H211.81M202.89 463.59L211.71 472.41M202.89 472.41L211.71 463.59" stroke="#7a7a7a" stroke-width="1.25" fill="none"/>
<path d="M210 461.6V471.4M205.49 466.5H214.51M205.59 462.09L214.41 470.91M205.59 470.91L214.41 462.09" stroke="#7a7a7a" stroke-width="1.25" fill="none"/>
<path d="M218.5 459.3V469.1M213.99 464.2H223.01M214.09 459.79L222.91 468.61M214.09 468.61L222.91 459.79" stroke="#7a7a7a" stroke-width="1.25" fill="none"/>
<path d="M221 462.6V472.4M216.49 467.5H225.51M216.59 463.09L225.41 471.91M216.59 471.91L225.41 463.09" stroke="#7a7a7a" stroke-width="1.25" fill="none"/>
<path d="M225 462.4V472.2M220.49 467.3H229.51M220.59 462.89L229.41 471.71M220.59 471.71L229.41 462.89" stroke="#7a7a7a" stroke-width="1.25" fill="none"/>
<path d="M231.4 462.38V472.18M226.89 467.28H235.91M226.99 462.87L235.81 471.69M226.99 471.69L235.81 462.87" stroke="#7a7a7a" stroke-width="1.25" fill="none"/>
<path d="M237.8 462.36V472.16M233.29 467.26H242.31M233.39 462.85L242.21 471.67M233.39 471.67L242.21 462.85" stroke="#7a7a7a" stroke-width="1.25" fill="none"/>
<path d="M244.2 462.35V472.15M239.69 467.25H248.71M239.79 462.84L248.61 471.66M239.79 471.66L248.61 462.84" stroke="#7a7a7a" stroke-width="1.25" fill="none"/>
<path d="M250.6 462.33V472.13M246.09 467.23H255.11M246.19 462.82L255.01 471.64M246.19 471.64L255.01 462.82" stroke="#7a7a7a" stroke-width="1.25" fill="none"/>
<path d="M257 462.31V472.11M252.49 467.21H261.51M252.59 462.8L261.41 471.62M252.59 471.62L261.41 462.8" stroke="#7a7a7a" stroke-width="1.25" fill="none"/>
<path d="M263.4 462.45V472.25M258.89 467.35H267.9M258.99 462.94L267.81 471.76M258.99 471.76L267.81 462.94" stroke="#7a7a7a" stroke-width="1.25" fill="none"/>
<path d="M269.79 462.73V472.53M265.28 467.63H274.3M265.38 463.22L274.2 472.04M265.38 472.04L274.2 463.22" stroke="#7a7a7a" stroke-width="1.25" fill="none"/>
<path d="M276.18 463.01V472.81M271.68 467.91H280.69M271.77 463.5L280.59 472.32M271.77 472.32L280.59 463.5" stroke="#7a7a7a" stroke-width="1.25" fill="none"/>
<path d="M282.58 463.29V473.09M278.07 468.19H287.09M278.17 463.78L286.99 472.6M278.17 472.6L286.99 463.78" stroke="#7a7a7a" stroke-width="1.25" fill="none"/>
<path d="M288.91 464.11V473.91M284.4 469.01H293.42M284.5 464.6L293.32 473.42M284.5 473.42L293.32 464.6" stroke="#7a7a7a" stroke-width="1.25" fill="none"/>
<path d="M295.21 465.26V475.06M290.7 470.16H299.72M290.8 465.75L299.62 474.57M290.8 474.57L299.62 465.75" stroke="#7a7a7a" stroke-width="1.25" fill="none"/>
<path d="M301.34 467.09V476.89M296.83 471.99H305.84M296.93 467.58L305.75 476.4M296.93 476.4L305.75 467.58" stroke="#7a7a7a" stroke-width="1.25" fill="none"/>
<path d="M305.34 468.35V478.15M300.83 473.25H309.85M300.93 468.84L309.75 477.66M300.93 477.66L309.75 468.84" stroke="#7a7a7a" stroke-width="1.25" fill="none"/>
<path d="M309.34 469.62V479.42M304.84 474.52H313.85M304.93 470.11L313.75 478.93M304.93 478.93L313.75 470.11" stroke="#7a7a7a" stroke-width="1.25" fill="none"/>
<path d="M313.3 471.03V480.83M308.79 475.93H317.8M308.89 471.52L317.71 480.34M308.89 480.34L317.71 471.52" stroke="#7a7a7a" stroke-width="1.25" fill="none"/>
<path d="M317.19 472.61V482.41M312.68 477.51H321.7M312.78 473.1L321.6 481.92M312.78 481.92L321.6 473.1" stroke="#7a7a7a" stroke-width="1.25" fill="none"/>
<path d="M321.08 474.19V483.99M316.57 479.09H325.59M316.67 474.68L325.49 483.5M316.67 483.5L325.49 474.68" stroke="#7a7a7a" stroke-width="1.25" fill="none"/>
<path d="M324.97 475.77V485.57M320.46 480.67H329.48M320.56 476.26L329.38 485.08M320.56 485.08L329.38 476.26" stroke="#7a7a7a" stroke-width="1.25" fill="none"/>
<path d="M328.87 477.34V487.14M324.36 482.24H333.37M324.46 477.83L333.28 486.65M324.46 486.65L333.28 477.83" stroke="#7a7a7a" stroke-width="1.25" fill="none"/>
<path d="M332.77 478.9V488.7M328.26 483.8H337.27M328.36 479.39L337.18 488.21M328.36 488.21L337.18 479.39" stroke="#7a7a7a" stroke-width="1.25" fill="none"/>
<path d="M336.67 480.45V490.25M332.16 485.35H341.18M332.26 480.94L341.08 489.76M332.26 489.76L341.08 480.94" stroke="#7a7a7a" stroke-width="1.25" fill="none"/>
<path d="M340.57 482.01V491.81M336.06 486.91H345.08M336.16 482.5L344.98 491.32M336.16 491.32L344.98 482.5" stroke="#7a7a7a" stroke-width="1.25" fill="none"/>
<path d="M344.37 483.78V493.58M339.87 488.68H348.88M339.96 484.27L348.78 493.09M339.96 493.09L348.78 484.27" stroke="#7a7a7a" stroke-width="1.25" fill="none"/>
<path d="M348.1 485.72V495.52M343.59 490.62H352.61M343.69 486.21L352.51 495.03M343.69 495.03L352.51 486.21" stroke="#7a7a7a" stroke-width="1.25" fill="none"/>
<path d="M351.76 487.78V497.58M347.25 492.68H356.26M347.35 488.27L356.17 497.09M347.35 497.09L356.17 488.27" stroke="#7a7a7a" stroke-width="1.25" fill="none"/>
<path d="M355.35 489.94V499.74M350.85 494.84H359.86M350.94 490.43L359.76 499.25M350.94 499.25L359.76 490.43" stroke="#7a7a7a" stroke-width="1.25" fill="none"/>
<path d="M358.95 492.11V501.91M354.44 497.01H363.46M354.54 492.6L363.36 501.42M354.54 501.42L363.36 492.6" stroke="#7a7a7a" stroke-width="1.25" fill="none"/>
<path d="M366.87 494.87V504.67M362.36 499.77H371.37M362.46 495.36L371.28 504.18M362.46 504.18L371.28 495.36" stroke="#7a7a7a" stroke-width="1.25" fill="none"/>
<path d="M375.12 496.05V505.85M370.62 500.95H379.63M370.71 496.54L379.53 505.36M370.71 505.36L379.53 496.54" stroke="#7a7a7a" stroke-width="1.25" fill="none"/>
<path d="M383.52 496.39V506.19M379.01 501.29H388.02M379.11 496.88L387.93 505.7M379.11 505.7L387.93 496.88" stroke="#7a7a7a" stroke-width="1.25" fill="none"/>
<path d="M391.9 496.83V506.63M387.39 501.73H396.4M387.49 497.32L396.31 506.14M387.49 506.14L396.31 497.32" stroke="#7a7a7a" stroke-width="1.25" fill="none"/>
<path d="M400.23 497.86V507.66M395.72 502.76H404.74M395.82 498.35L404.64 507.17M395.82 507.17L404.64 498.35" stroke="#7a7a7a" stroke-width="1.25" fill="none"/>
<path d="M412.7 501.6V511.4M408.19 506.5H417.21M408.29 502.09L417.11 510.91M408.29 510.91L417.11 502.09" stroke="#7a7a7a" stroke-width="1.25" fill="none"/>
<path d="M418.8 506.3V516.1M414.29 511.2H423.31M414.39 506.79L423.21 515.61M414.39 515.61L423.21 506.79" stroke="#7a7a7a" stroke-width="1.25" fill="none"/>
<path d="M424 510.1V519.9M419.49 515H428.51M419.59 510.59L428.41 519.41M419.59 519.41L428.41 510.59" stroke="#7a7a7a" stroke-width="1.25" fill="none"/>
<path d="M429.6 514.7V524.5M425.09 519.6H434.11M425.19 515.19L434.01 524.01M425.19 524.01L434.01 515.19" stroke="#7a7a7a" stroke-width="1.25" fill="none"/>
<path d="M434.5 520.1V529.9M429.99 525H439.01M430.09 520.59L438.91 529.41M430.09 529.41L438.91 520.59" stroke="#7a7a7a" stroke-width="1.25" fill="none"/>
<path d="M439.6 526.3V536.1M435.09 531.2H444.11M435.19 526.79L444.01 535.61M435.19 535.61L444.01 526.79" stroke="#7a7a7a" stroke-width="1.25" fill="none"/>
<path d="M446.5 543.2V553M441.99 548.1H451.01M442.09 543.69L450.91 552.51M442.09 552.51L450.91 543.69" stroke="#7a7a7a" stroke-width="1.25" fill="none"/>
<path d="M454.2 560.1V569.9M449.69 565H458.71M449.79 560.59L458.61 569.41M449.79 569.41L458.61 560.59" stroke="#7a7a7a" stroke-width="1.25" fill="none"/>
<path d="M461.9 582.4V592.2M457.39 587.3H466.41M457.49 582.89L466.31 591.71M457.49 591.71L466.31 582.89" stroke="#7a7a7a" stroke-width="1.25" fill="none"/>
<path d="M467.6 605V614.8M463.09 609.9H472.11M463.19 605.49L472.01 614.31M463.19 614.31L472.01 605.49" stroke="#7a7a7a" stroke-width="1.25" fill="none"/>
<path d="M472.8 628.4V638.2M468.29 633.3H477.31M468.39 628.89L477.21 637.71M468.39 637.71L477.21 628.89" stroke="#7a7a7a" stroke-width="1.25" fill="none"/>
<path d="M478.8 650.8V660.6M474.29 655.7H483.31M474.39 651.29L483.21 660.11M474.39 660.11L483.21 651.29" stroke="#7a7a7a" stroke-width="1.25" fill="none"/>
<path d="M483.1 670.7V680.5M478.59 675.6H487.61M478.69 671.19L487.51 680.01M478.69 680.01L487.51 671.19" stroke="#7a7a7a" stroke-width="1.25" fill="none"/>
<path d="M486.6 687.2V697M482.09 692.1H491.11M482.19 687.69L491.01 696.51M482.19 696.51L491.01 687.69" stroke="#7a7a7a" stroke-width="1.25" fill="none"/>
<path d="M489.7 703.6V713.4M485.19 708.5H494.21M485.29 704.09L494.11 712.91M485.29 712.91L494.11 704.09" stroke="#7a7a7a" stroke-width="1.25" fill="none"/>
</g>
<path d="M146.5 632.7L160.1 646.3M146.5 646.3L160.1 632.7" stroke="#000" stroke-width="2.5" fill="none"/>
<path d="M202 632.7L215.6 646.3M202 646.3L215.6 632.7" stroke="#000" stroke-width="2.5" fill="none"/>
<path d="M471.7 632.5L485.3 646.1M471.7 646.1L485.3 632.5" stroke="#000" stroke-width="2.5" fill="none"/>
<rect x="76" y="447" width="427.3" height="344" fill="none" stroke="#000" stroke-width="1.3"/>
<path d="M76 791v-6.4M76 447v6.4M94.38 791v-3.2M94.38 447v3.2M105.12 791v-3.2M105.12 447v3.2M112.75 791v-3.2M112.75 447v3.2M118.67 791v-3.2M118.67 447v3.2M123.5 791v-3.2M123.5 447v3.2M127.59 791v-3.2M127.59 447v3.2M131.13 791v-3.2M131.13 447v3.2M134.25 791v-3.2M134.25 447v3.2M137.04 791v-6.4M137.04 447v6.4M155.42 791v-3.2M155.42 447v3.2M166.17 791v-3.2M166.17 447v3.2M173.79 791v-3.2M173.79 447v3.2M179.71 791v-3.2M179.71 447v3.2M184.54 791v-3.2M184.54 447v3.2M188.63 791v-3.2M188.63 447v3.2M192.17 791v-3.2M192.17 447v3.2M195.29 791v-3.2M195.29 447v3.2M198.09 791v-6.4M198.09 447v6.4M216.46 791v-3.2M216.46 447v3.2M227.21 791v-3.2M227.21 447v3.2M234.84 791v-3.2M234.84 447v3.2M240.75 791v-3.2M240.75 447v3.2M245.59 791v-3.2M245.59 447v3.2M249.67 791v-3.2M249.67 447v3.2M253.21 791v-3.2M253.21 447v3.2M256.34 791v-3.2M256.34 447v3.2M259.13 791v-6.4M259.13 447v6.4M277.5 791v-3.2M277.5 447v3.2M288.25 791v-3.2M288.25 447v3.2M295.88 791v-3.2M295.88 447v3.2M301.8 791v-3.2M301.8 447v3.2M306.63 791v-3.2M306.63 447v3.2M310.72 791v-3.2M310.72 447v3.2M314.26 791v-3.2M314.26 447v3.2M317.38 791v-3.2M317.38 447v3.2M320.17 791v-6.4M320.17 447v6.4M338.55 791v-3.2M338.55 447v3.2M349.3 791v-3.2M349.3 447v3.2M356.92 791v-3.2M356.92 447v3.2M362.84 791v-3.2M362.84 447v3.2M367.67 791v-3.2M367.67 447v3.2M371.76 791v-3.2M371.76 447v3.2M375.3 791v-3.2M375.3 447v3.2M378.42 791v-3.2M378.42 447v3.2M381.21 791v-6.4M381.21 447v6.4M399.59 791v-3.2M399.59 447v3.2M410.34 791v-3.2M410.34 447v3.2M417.97 791v-3.2M417.97 447v3.2M423.88 791v-3.2M423.88 447v3.2M428.71 791v-3.2M428.71 447v3.2M432.8 791v-3.2M432.8 447v3.2M436.34 791v-3.2M436.34 447v3.2M439.46 791v-3.2M439.46 447v3.2M442.26 791v-6.4M442.26 447v6.4M460.63 791v-3.2M460.63 447v3.2M471.38 791v-3.2M471.38 447v3.2M479.01 791v-3.2M479.01 447v3.2M484.92 791v-3.2M484.92 447v3.2M489.76 791v-3.2M489.76 447v3.2M493.84 791v-3.2M493.84 447v3.2M497.38 791v-3.2M497.38 447v3.2M500.51 791v-3.2M500.51 447v3.2M503.3 791v-6.4M503.3 447v6.4M76 771.8h6.4M503.3 771.8h-6.4M76 752.7h3.2M503.3 752.7h-3.2M76 733.6h6.4M503.3 733.6h-6.4M76 714.5h3.2M503.3 714.5h-3.2M76 695.4h6.4M503.3 695.4h-6.4M76 676.3h3.2M503.3 676.3h-3.2M76 657.2h6.4M503.3 657.2h-6.4M76 638.1h3.2M503.3 638.1h-3.2M76 619h6.4M503.3 619h-6.4M76 599.9h3.2M503.3 599.9h-3.2M76 580.8h6.4M503.3 580.8h-6.4M76 561.7h3.2M503.3 561.7h-3.2M76 542.6h6.4M503.3 542.6h-6.4M76 523.5h3.2M503.3 523.5h-3.2M76 504.4h6.4M503.3 504.4h-6.4M76 485.3h3.2M503.3 485.3h-3.2M76 466.2h6.4M503.3 466.2h-6.4" stroke="#000" stroke-width="1.2" fill="none"/>
<text transform="translate(61.8,816.8) scale(0.92,1)" font-size="21.3" fill="#111">10<tspan dy="-8.52" font-size="13.7">2</tspan></text>
<text transform="translate(122.84,816.8) scale(0.92,1)" font-size="21.3" fill="#111">10<tspan dy="-8.52" font-size="13.7">3</tspan></text>
<text transform="translate(183.89,816.8) scale(0.92,1)" font-size="21.3" fill="#111">10<tspan dy="-8.52" font-size="13.7">4</tspan></text>
<text transform="translate(244.93,816.8) scale(0.92,1)" font-size="21.3" fill="#111">10<tspan dy="-8.52" font-size="13.7">5</tspan></text>
<text transform="translate(305.97,816.8) scale(0.92,1)" font-size="21.3" fill="#111">10<tspan dy="-8.52" font-size="13.7">6</tspan></text>
<text transform="translate(367.01,816.8) scale(0.92,1)" font-size="21.3" fill="#111">10<tspan dy="-8.52" font-size="13.7">7</tspan></text>
<text transform="translate(428.06,816.8) scale(0.92,1)" font-size="21.3" fill="#111">10<tspan dy="-8.52" font-size="13.7">8</tspan></text>
<text transform="translate(489.1,816.8) scale(0.92,1)" font-size="21.3" fill="#111">10<tspan dy="-8.52" font-size="13.7">9</tspan></text>
<text transform="translate(68.4,778.5) scale(0.92,1)" font-size="21.8" text-anchor="end" fill="#111">10</text>
<text transform="translate(68.4,740.3) scale(0.92,1)" font-size="21.8" text-anchor="end" fill="#111">20</text>
<text transform="translate(68.4,702.1) scale(0.92,1)" font-size="21.8" text-anchor="end" fill="#111">30</text>
<text transform="translate(68.4,663.9) scale(0.92,1)" font-size="21.8" text-anchor="end" fill="#111">40</text>
<text transform="translate(68.4,625.7) scale(0.92,1)" font-size="21.8" text-anchor="end" fill="#111">50</text>
<text transform="translate(68.4,587.5) scale(0.92,1)" font-size="21.8" text-anchor="end" fill="#111">60</text>
<text transform="translate(68.4,549.3) scale(0.92,1)" font-size="21.8" text-anchor="end" fill="#111">70</text>
<text transform="translate(68.4,511.1) scale(0.92,1)" font-size="21.8" text-anchor="end" fill="#111">80</text>
<text transform="translate(68.4,472.9) scale(0.92,1)" font-size="21.8" text-anchor="end" fill="#111">90</text>
<circle cx="323.2" cy="700" r="3.6" fill="#fff" stroke="#0c7a14" stroke-width="1.4"/>
<polygon points="323.1,717.6 318.8,724.6 327.4,724.6" fill="#fff" stroke="#ee0a1e" stroke-width="1.5" stroke-linejoin="miter"/>
<rect x="319.8" y="741" width="6.6" height="6.6" fill="#fff" stroke="#0a0ae6" stroke-width="1.4"/>
<path d="M323.1 761.7V771.5M318.59 766.6H327.61M318.69 762.19L327.51 771.01M318.69 771.01L327.51 762.19" stroke="#7a7a7a" stroke-width="1.25" fill="none"/>
<text x="348.1" y="706.1" font-size="17.7" fill="#0c7a14">PS-1760k/4k-18</text>
<text x="348.1" y="728.4" font-size="17.7" fill="#ee0a1e">PS-864k/4k-17</text>
<text x="348.1" y="750.4" font-size="17.7" fill="#0a0ae6">PS-576k/4k-17</text>
<text x="348.1" y="772.6" font-size="17.7" fill="#7a7a7a">OS-4k</text>
<text transform="translate(20.7,618.9) scale(1,1.05) rotate(-90)" style="font-family:'Liberation Serif',serif" font-size="25.5" fill="#111">δ</text>
<text transform="translate(19.9,599.5) scale(1,1.05) rotate(-90)" font-size="21.6" fill="#111">[°]</text>
<text x="290.4" y="847.3" font-size="23.3" text-anchor="middle" fill="#111">G* [Pa]</text>
<text x="2" y="447.5" font-size="24.5" fill="#111">(b)</text>
</svg>
</body>
</html>
